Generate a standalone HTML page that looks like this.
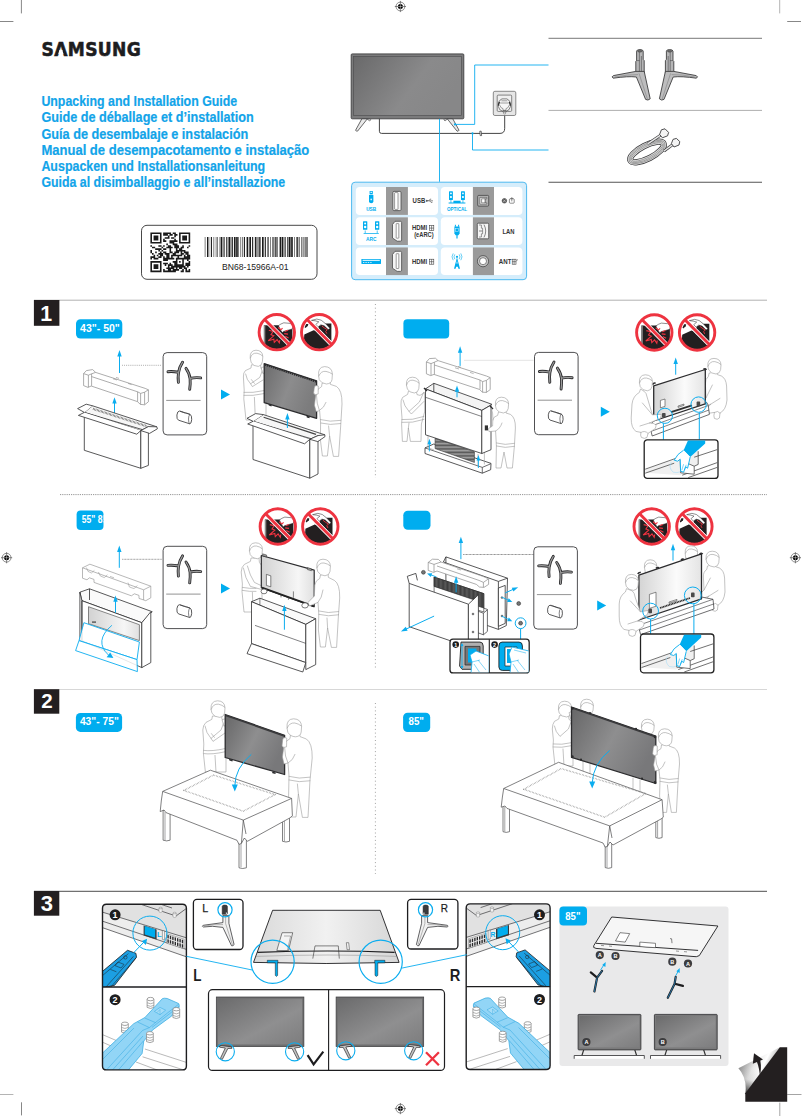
<!DOCTYPE html>
<html lang="en"><head><meta charset="utf-8"><title>Unpacking and Installation Guide</title>
<style>
html,body{margin:0;padding:0;background:#fff}
body{width:802px;height:1116px;overflow:hidden;font-family:"Liberation Sans",sans-serif}
svg{display:block}
.t{font-family:"Liberation Sans",sans-serif}
.b{font-family:"Liberation Sans",sans-serif;font-weight:bold}
</style></head><body>
<svg width="802" height="1116" viewBox="0 0 802 1116">
<defs>
<linearGradient id="gScreen" x1="0" y1="0" x2="1" y2="0.400">
<stop offset="0" stop-color="#69696a"/><stop offset="0.650" stop-color="#8a8a8b"/><stop offset="1" stop-color="#878788"/>
</linearGradient>
<linearGradient id="gCurl" x1="0" y1="0" x2="1" y2="0.6">
<stop offset="0" stop-color="#8a8a8a"/><stop offset="0.45" stop-color="#f4f4f4"/><stop offset="1" stop-color="#9a9a9a"/>
</linearGradient>
<g id="reg">
<circle r="4.4" fill="none" stroke="#222" stroke-width="0.5"/>
<circle r="2.5" fill="#000"/>
<path d="M-5.6 0H5.6M0 -5.6V5.6" stroke="#222" stroke-width="0.5"/>
<path d="M0 -2.5V2.5M-2.5 0H2.5" stroke="#fff" stroke-width="0.4"/>
</g>
</defs>
<rect width="802" height="1116" fill="#fff"/>
<!-- crop marks -->
<g stroke="#b4b4b4" stroke-width="1" fill="none"><path d="M779.700 0V13.400M0 1094.500H13.400"/></g>
<g stroke="#9a9a9a" stroke-width="0.900" fill="none"><path d="M779.800 1102.600V1116M787.200 1094.500H801.500"/></g>
<g stroke="#686868" stroke-width="0.800" fill="none"><path d="M21.400 0V13.400M0 21.500H13.400M787.200 21.500H801M21.500 1102.300V1115.400"/></g>
<use href="#reg" x="400.4" y="6.5"/>
<use href="#reg" x="6.6" y="557.7"/>
<use href="#reg" x="795.4" y="557.7"/>
<use href="#reg" x="400.4" y="1108.6"/>
<!-- header text -->
<text x="41.6" y="55.800" font-family="'DejaVu Sans Condensed','Liberation Sans',sans-serif" font-weight="bold" font-size="19" fill="#1d1d1f" stroke="#1d1d1f" stroke-width="0.550" letter-spacing="0.350">SAMSUNG</text>
<path d="M59.350 50.100H62.350L63.500 53.950H58.250z" fill="#fff"/>
<g class="b" font-size="14.2" fill="#12a4e9" stroke="#12a4e9" stroke-width="0.200" lengthAdjust="spacingAndGlyphs">
<text x="41.4" y="106.3" textLength="195.8" lengthAdjust="spacingAndGlyphs">Unpacking and Installation Guide</text>
<text x="41.4" y="122.4" textLength="212.3" lengthAdjust="spacingAndGlyphs">Guide de déballage et d’installation</text>
<text x="41.4" y="138.5" textLength="206.8" lengthAdjust="spacingAndGlyphs">Guía de desembalaje e instalación</text>
<text x="41.4" y="154.6" textLength="267.8" lengthAdjust="spacingAndGlyphs">Manual de desempacotamento e instalação</text>
<text x="41.4" y="170.7" textLength="223.8" lengthAdjust="spacingAndGlyphs">Auspacken und Installationsanleitung</text>
<text x="41.4" y="186.8" textLength="243.8" lengthAdjust="spacingAndGlyphs">Guida al disimballaggio e all’installazione</text>
</g>
<!-- barcode label -->
<rect x="141.5" y="225.3" width="175.5" height="54" rx="5.5" fill="#fff" stroke="#333" stroke-width="0.9"/>
<text x="222" y="270" class="t" font-size="8.6" fill="#222" textLength="66.5" lengthAdjust="spacingAndGlyphs">BN68-15966A-01</text>
<!-- qr -->
<path d="M150.40 232.40h11.14v1.64h-11.14zM163.14 232.40h7.96v1.64h-7.96zM172.69 232.40h3.18v1.64h-3.18zM179.06 232.40h11.14v1.64h-11.14zM150.40 233.99h1.59v1.64h-1.59zM159.95 233.99h1.59v1.64h-1.59zM163.14 233.99h4.78v1.64h-4.78zM169.50 233.99h3.18v1.64h-3.18zM174.28 233.99h3.18v1.64h-3.18zM179.06 233.99h1.59v1.64h-1.59zM188.61 233.99h1.59v1.64h-1.59zM150.40 235.58h1.59v1.64h-1.59zM153.58 235.58h4.78v1.64h-4.78zM159.95 235.58h1.59v1.64h-1.59zM167.91 235.58h1.59v1.64h-1.59zM174.28 235.58h1.59v1.64h-1.59zM179.06 235.58h1.59v1.64h-1.59zM182.24 235.58h4.78v1.64h-4.78zM188.61 235.58h1.59v1.64h-1.59zM150.40 237.18h1.59v1.64h-1.59zM153.58 237.18h4.78v1.64h-4.78zM159.95 237.18h1.59v1.64h-1.59zM164.73 237.18h4.78v1.64h-4.78zM171.10 237.18h3.18v1.64h-3.18zM179.06 237.18h1.59v1.64h-1.59zM182.24 237.18h4.78v1.64h-4.78zM188.61 237.18h1.59v1.64h-1.59zM150.40 238.77h1.59v1.64h-1.59zM153.58 238.77h4.78v1.64h-4.78zM159.95 238.77h1.59v1.64h-1.59zM163.14 238.77h1.59v1.64h-1.59zM174.28 238.77h1.59v1.64h-1.59zM179.06 238.77h1.59v1.64h-1.59zM182.24 238.77h4.78v1.64h-4.78zM188.61 238.77h1.59v1.64h-1.59zM150.40 240.36h1.59v1.64h-1.59zM159.95 240.36h1.59v1.64h-1.59zM163.14 240.36h3.18v1.64h-3.18zM169.50 240.36h7.96v1.64h-7.96zM179.06 240.36h1.59v1.64h-1.59zM188.61 240.36h1.59v1.64h-1.59zM150.40 241.95h11.14v1.64h-11.14zM169.50 241.95h4.78v1.64h-4.78zM179.06 241.95h11.14v1.64h-11.14zM166.32 243.54h1.59v1.64h-1.59zM172.69 243.54h4.78v1.64h-4.78zM150.40 245.14h1.59v1.64h-1.59zM158.36 245.14h3.18v1.64h-3.18zM163.14 245.14h1.59v1.64h-1.59zM167.91 245.14h3.18v1.64h-3.18zM174.28 245.14h4.78v1.64h-4.78zM182.24 245.14h1.59v1.64h-1.59zM188.61 245.14h1.59v1.64h-1.59zM151.99 246.73h3.18v1.64h-3.18zM161.54 246.73h1.59v1.64h-1.59zM166.32 246.73h6.37v1.64h-6.37zM174.28 246.73h4.78v1.64h-4.78zM180.65 246.73h3.18v1.64h-3.18zM187.02 246.73h1.59v1.64h-1.59zM155.18 248.32h6.37v1.64h-6.37zM163.14 248.32h3.18v1.64h-3.18zM169.50 248.32h1.59v1.64h-1.59zM175.87 248.32h1.59v1.64h-1.59zM179.06 248.32h3.18v1.64h-3.18zM150.40 249.91h1.59v1.64h-1.59zM158.36 249.91h1.59v1.64h-1.59zM161.54 249.91h1.59v1.64h-1.59zM169.50 249.91h1.59v1.64h-1.59zM175.87 249.91h9.55v1.64h-9.55zM150.40 251.50h1.59v1.64h-1.59zM155.18 251.50h1.59v1.64h-1.59zM159.95 251.50h1.59v1.64h-1.59zM163.14 251.50h3.18v1.64h-3.18zM169.50 251.50h3.18v1.64h-3.18zM174.28 251.50h4.78v1.64h-4.78zM180.65 251.50h1.59v1.64h-1.59zM183.83 251.50h4.78v1.64h-4.78zM151.99 253.10h1.59v1.64h-1.59zM158.36 253.10h4.78v1.64h-4.78zM164.73 253.10h4.78v1.64h-4.78zM172.69 253.10h3.18v1.64h-3.18zM180.65 253.10h3.18v1.64h-3.18zM185.42 253.10h3.18v1.64h-3.18zM153.58 254.69h1.59v1.64h-1.59zM156.77 254.69h1.59v1.64h-1.59zM159.95 254.69h3.18v1.64h-3.18zM166.32 254.69h3.18v1.64h-3.18zM171.10 254.69h11.14v1.64h-11.14zM183.83 254.69h1.59v1.64h-1.59zM187.02 254.69h3.18v1.64h-3.18zM150.40 256.28h4.78v1.64h-4.78zM158.36 256.28h3.18v1.64h-3.18zM163.14 256.28h1.59v1.64h-1.59zM166.32 256.28h3.18v1.64h-3.18zM171.10 256.28h1.59v1.64h-1.59zM177.46 256.28h1.59v1.64h-1.59zM183.83 256.28h6.37v1.64h-6.37zM150.40 257.87h1.59v1.64h-1.59zM153.58 257.87h4.78v1.64h-4.78zM163.14 257.87h11.14v1.64h-11.14zM175.87 257.87h14.33v1.64h-14.33zM163.14 259.46h4.78v1.64h-4.78zM175.87 259.46h1.59v1.64h-1.59zM182.24 259.46h1.59v1.64h-1.59zM187.02 259.46h1.59v1.64h-1.59zM150.40 261.06h11.14v1.64h-11.14zM172.69 261.06h4.78v1.64h-4.78zM179.06 261.06h1.59v1.64h-1.59zM182.24 261.06h1.59v1.64h-1.59zM188.61 261.06h1.59v1.64h-1.59zM150.40 262.65h1.59v1.64h-1.59zM159.95 262.65h1.59v1.64h-1.59zM163.14 262.65h4.78v1.64h-4.78zM169.50 262.65h1.59v1.64h-1.59zM174.28 262.65h3.18v1.64h-3.18zM182.24 262.65h1.59v1.64h-1.59zM185.42 262.65h4.78v1.64h-4.78zM150.40 264.24h1.59v1.64h-1.59zM153.58 264.24h4.78v1.64h-4.78zM159.95 264.24h1.59v1.64h-1.59zM164.73 264.24h1.59v1.64h-1.59zM167.91 264.24h4.78v1.64h-4.78zM174.28 264.24h9.55v1.64h-9.55zM185.42 264.24h4.78v1.64h-4.78zM150.40 265.83h1.59v1.64h-1.59zM153.58 265.83h4.78v1.64h-4.78zM159.95 265.83h1.59v1.64h-1.59zM167.91 265.83h1.59v1.64h-1.59zM171.10 265.83h14.33v1.64h-14.33zM187.02 265.83h1.59v1.64h-1.59zM150.40 267.42h1.59v1.64h-1.59zM153.58 267.42h4.78v1.64h-4.78zM159.95 267.42h1.59v1.64h-1.59zM166.32 267.42h7.96v1.64h-7.96zM175.87 267.42h1.59v1.64h-1.59zM179.06 267.42h3.18v1.64h-3.18zM183.83 267.42h3.18v1.64h-3.18zM150.40 269.02h1.59v1.64h-1.59zM159.95 269.02h1.59v1.64h-1.59zM163.14 269.02h1.59v1.64h-1.59zM167.91 269.02h3.18v1.64h-3.18zM172.69 269.02h6.37v1.64h-6.37zM182.24 269.02h1.59v1.64h-1.59zM185.42 269.02h1.59v1.64h-1.59zM188.61 269.02h1.59v1.64h-1.59zM150.40 270.61h11.14v1.64h-11.14zM163.14 270.61h12.74v1.64h-12.74zM180.65 270.61h3.18v1.64h-3.18zM185.42 270.61h4.78v1.64h-4.78z" fill="#1a1a1a"/>
<!-- barcode -->
<path d="M204.80 237.0h0.55v20.0h-0.55zM207.00 237.0h1.10v20.0h-1.10zM208.65 237.0h0.55v20.0h-0.55zM210.85 237.0h1.10v20.0h-1.10zM213.60 237.0h0.55v20.0h-0.55zM215.80 237.0h0.55v20.0h-0.55zM217.45 237.0h0.55v20.0h-0.55zM219.65 237.0h0.55v20.0h-0.55zM220.75 237.0h1.65v20.0h-1.65zM223.50 237.0h1.10v20.0h-1.10zM226.25 237.0h1.10v20.0h-1.10zM228.45 237.0h1.65v20.0h-1.65zM230.65 237.0h0.55v20.0h-0.55zM231.75 237.0h1.10v20.0h-1.10zM233.95 237.0h1.65v20.0h-1.65zM236.15 237.0h1.65v20.0h-1.65zM238.35 237.0h0.55v20.0h-0.55zM240.55 237.0h0.55v20.0h-0.55zM242.20 237.0h0.55v20.0h-0.55zM243.85 237.0h1.10v20.0h-1.10zM246.60 237.0h1.65v20.0h-1.65zM249.35 237.0h1.65v20.0h-1.65zM252.10 237.0h1.10v20.0h-1.10zM254.85 237.0h1.10v20.0h-1.10zM256.50 237.0h0.55v20.0h-0.55zM257.60 237.0h0.55v20.0h-0.55zM258.70 237.0h1.10v20.0h-1.10zM260.35 237.0h0.55v20.0h-0.55zM262.00 237.0h1.65v20.0h-1.65zM264.75 237.0h1.10v20.0h-1.10zM267.50 237.0h1.10v20.0h-1.10zM270.25 237.0h0.55v20.0h-0.55zM272.45 237.0h1.10v20.0h-1.10zM274.65 237.0h1.10v20.0h-1.10zM276.30 237.0h0.55v20.0h-0.55zM277.40 237.0h0.55v20.0h-0.55zM279.60 237.0h1.65v20.0h-1.65zM281.80 237.0h1.65v20.0h-1.65zM284.55 237.0h1.10v20.0h-1.10zM287.30 237.0h1.10v20.0h-1.10zM288.95 237.0h1.65v20.0h-1.65zM291.15 237.0h1.65v20.0h-1.65zM294.45 237.0h0.55v20.0h-0.55zM296.10 237.0h0.55v20.0h-0.55zM297.20 237.0h1.10v20.0h-1.10zM299.40 237.0h0.55v20.0h-0.55zM301.05 237.0h0.55v20.0h-0.55zM302.70 237.0h0.55v20.0h-0.55zM303.80 237.0h0.55v20.0h-0.55zM305.45 237.0h1.10v20.0h-1.10zM307.10 237.0h0.55v20.0h-0.55z" fill="#1a1a1a"/>
<!-- top TV diagram -->
<g>
<!-- legs -->
<path d="M362 118.5L355.6 130.2Q356.2 131.6 357.6 131.1L367.6 118.5z" fill="#e9e9e9" stroke="#444" stroke-width="0.8" stroke-linejoin="round"/>
<path d="M367 118.8l2.6 2.2 1.2-1.2-1.4-1.4z" fill="#ddd" stroke="#444" stroke-width="0.6"/>
<path d="M452.6 118.5L459 130.2Q458.4 131.6 457 131.1L447 118.5z" fill="#e9e9e9" stroke="#444" stroke-width="0.8" stroke-linejoin="round"/>
<path d="M447.6 118.8l-2.6 2.2-1.2-1.2 1.4-1.4z" fill="#ddd" stroke="#444" stroke-width="0.6"/>
<!-- cable -->
<path d="M379.4 118.5V131.3Q379.4 133.4 381.5 133.4H500Q504.700 133.400 504.700 128.300V114" fill="none" stroke="#444" stroke-width="1"/>
<path d="M479.8 131.2l1.4 0 0.4 4.4-1.4 0z" fill="#fff" stroke="#333" stroke-width="0.7"/>
<!-- tv -->
<rect x="351.2" y="53.9" width="112.6" height="64.9" rx="1" fill="#7b7b7c" stroke="#3e3e40" stroke-width="0.9"/>
<rect x="353.4" y="56.3" width="108" height="59.2" fill="url(#gScreen)" stroke="#4a4a4b" stroke-width="0.6"/>
<!-- socket -->
<rect x="493.300" y="91.300" width="22.500" height="24.200" rx="1.600" fill="#e6e6e6" stroke="#6e6e6e" stroke-width="0.800"/>
<rect x="497.200" y="95.100" width="14.500" height="16.300" rx="1" fill="#efefef" stroke="#555" stroke-width="0.700"/>
<path d="M498.300 106.400Q498 100.400 502 98.900H506.800Q510.800 100.400 510.500 106.400Q509.600 110.600 506.200 111.200H502.600Q499.200 110.600 498.300 106.400z" fill="#f6f6f6" stroke="#333" stroke-width="0.600"/>
<path d="M498.400 105.600Q498.600 103.400 499.600 102M510.400 105.600Q510.200 103.400 509.200 102" fill="none" stroke="#333" stroke-width="1.300"/>
<path d="M501.400 100.800H507.400M500.200 103H508.600" fill="none" stroke="#444" stroke-width="0.500"/>
<path d="M499.800 105.200Q501 108.600 503 108.600V110.400H506V108.600Q508 108.600 509.200 105.200" fill="none" stroke="#444" stroke-width="0.500"/>
<path d="M503 110.400h3v1.800h-3z" fill="#9a9a9a" stroke="#444" stroke-width="0.400"/>
<path d="M503.400 112.200h2.400l-0.400 1.800h-1.600z" fill="#fff" stroke="#444" stroke-width="0.400"/>
<!-- blue leaders -->
<g fill="none" stroke="#0badef" stroke-width="0.9">
<path d="M455 124.4H474.7V65H548.5"/>
<path d="M472.5 133.4V150H548.5"/>
<path d="M439.5 118.8V181.8"/>
</g>
<circle cx="455" cy="124.4" r="1.1" fill="#0badef"/>
<circle cx="472.5" cy="133.4" r="1.1" fill="#0badef"/>
</g>
<!-- right table -->
<g stroke="#555" fill="none">
<path d="M548.5 38.3H762" stroke-width="0.8"/>
<path d="M548.5 110.4H762" stroke-width="0.6" stroke="#777"/>
<path d="M548.5 182.3H762" stroke-width="1.1"/>
</g>
<!-- port panel -->
<g>
<rect x="351.6" y="182.2" width="175" height="97.5" rx="3.5" fill="#d5edfb" stroke="#4db9ef" stroke-width="1"/>
<g fill="#fff">
<rect x="355.8" y="187" width="82.2" height="27.9" rx="4"/>
<rect x="355.8" y="217.3" width="82.2" height="27.7" rx="4"/>
<rect x="355.8" y="247.4" width="82.2" height="27.7" rx="4"/>
<rect x="440.8" y="187" width="81.6" height="27.9" rx="4"/>
<rect x="440.8" y="217.3" width="81.6" height="27.7" rx="4"/>
<rect x="440.8" y="247.4" width="81.6" height="27.7" rx="4"/>
</g>
<g fill="#9a9a9a">
<rect x="386" y="187" width="21.9" height="27.9"/><rect x="386" y="217.3" width="21.9" height="27.7"/><rect x="386" y="247.4" width="21.9" height="27.7"/>
<rect x="472.9" y="187" width="21.1" height="27.9"/><rect x="472.9" y="217.3" width="21.1" height="27.7"/><rect x="472.9" y="247.4" width="21.1" height="27.7"/>
</g>
<!-- ports -->
<g fill="#f4f4f4" stroke="#3a3a3a" stroke-width="0.7" stroke-linejoin="round">
<rect x="392.9" y="191.4" width="8.1" height="19.2" rx="1.2"/>
<rect x="394.6" y="192.6" width="3.4" height="16.8" rx="0.6" fill="#fff" stroke-width="0.5"/>
<path d="M395 221.3h5.4q1.2 0 1.2 1.2v17.5q0 1.2-1.2 1.2h-3.2l-4.7-3.2v-13.5z"/>
<rect x="396.2" y="223.6" width="2.6" height="14.6" rx="0.5" fill="#fff" stroke-width="0.5"/>
<path d="M395 251.3h5.4q1.2 0 1.2 1.2v17.7q0 1.2-1.2 1.2h-3.2l-4.7-3.2v-13.7z"/>
<rect x="396.2" y="253.7" width="2.6" height="14.8" rx="0.5" fill="#fff" stroke-width="0.5"/>
<rect x="477.7" y="195.4" width="11" height="10.7" rx="1" fill="#b5b5b5"/>
<path d="M479.8 197.4h7v1.4h-2v4h2v1.4h-7z" fill="#e8e8e8" stroke-width="0.5"/>
<rect x="481.6" y="198.8" width="3.4" height="4" fill="#fff" stroke-width="0.5"/>
<rect x="477.3" y="223.2" width="11.4" height="15.6" rx="1"/>
<path d="M479 225h2.4v3.2h1.2v5.6h-1.2v3.2h-2.4" fill="none" stroke-width="0.5"/>
<path d="M484 224.6q3.4 6.4 0 12.8" fill="none" stroke-width="0.6"/>
<path d="M479 231h3.4" stroke-width="0.6"/>
<circle cx="483" cy="261.2" r="5.6" fill="#c9c9c9"/>
<circle cx="483" cy="261.2" r="3.5" fill="#fff" stroke-width="0.6"/>
</g>
<!-- labels -->
<g class="b" font-size="6.6" fill="#333">
<text x="412.6" y="203.1" textLength="12.6" lengthAdjust="spacingAndGlyphs">USB</text>
<text x="412" y="230.4" textLength="15.2" lengthAdjust="spacingAndGlyphs">HDMI</text>
<text x="414.2" y="236.9" textLength="19.4" lengthAdjust="spacingAndGlyphs">(eARC)</text>
<text x="412" y="264" textLength="15.2" lengthAdjust="spacingAndGlyphs">HDMI</text>
<text x="502.4" y="234" font-size="7" textLength="12" lengthAdjust="spacingAndGlyphs">LAN</text>
<text x="498.8" y="264" font-size="7" textLength="12.6" lengthAdjust="spacingAndGlyphs">ANT</text>
</g>
<!-- small symbol glyphs after labels -->
<g fill="none" stroke="#333" stroke-width="0.55">
<path d="M426.6 200.8h6.4M428.6 200.8l1.4-1.6h1.2M429.6 200.8l1.4 1.6h1.4"/>
<circle cx="426.8" cy="200.8" r="0.6" fill="#333"/>
<rect x="429.4" y="225.6" width="4.4" height="5"/><path d="M431.6 225.6v5M429.4 228.1h4.4"/>
<rect x="429.4" y="259.2" width="4.4" height="5"/><path d="M431.6 259.2v5M429.4 261.7h4.4"/>
<rect x="512.2" y="259.2" width="3.8" height="5"/><path d="M514.1 259.2v5M512.2 261.7h3.8M517.4 259.2l-0.8 2"/>
<circle cx="504.4" cy="200.8" r="2.3" fill="#555"/><path d="M503 199.4l2.8 2.8M505.8 199.4l-2.8 2.8" stroke="#fff" stroke-width="0.5"/>
<rect x="509.4" y="198.8" width="4.8" height="4.4" rx="0.8"/><path d="M511.8 201.4v-3.6m-1.2 1l1.2-1.2 1.2 1.2"/>
</g>
<!-- blue icons -->
<g fill="#00adef" stroke="none">
<rect x="369.6" y="191" width="3.2" height="3.4"/><rect x="370.4" y="191.8" width="1.6" height="1" fill="#fff"/>
<path d="M369 195h4.4v6.2q0 2-2.2 2t-2.2-2z"/><circle cx="371.2" cy="199.4" r="0.9" fill="#d5edfb"/>
<rect x="363" y="221.3" width="4.3" height="8.4" rx="0.5"/><rect x="375" y="221.3" width="4.3" height="8.4" rx="0.5"/>
<circle cx="365.15" cy="223.5" r="1" fill="#fff"/><circle cx="365.15" cy="227" r="1.2" fill="#fff"/>
<circle cx="377.15" cy="223.5" r="1" fill="#fff"/><circle cx="377.15" cy="227" r="1.2" fill="#fff"/>
<path d="M363.6 232.9h15.2v0.8h-15.2zM364.8 230.6h0.7v2.6h-0.7zM376.8 230.6h0.7v2.6h-0.7z"/>
<rect x="361.4" y="259" width="19.6" height="5" rx="0.4"/><rect x="362.6" y="259.8" width="17.2" height="1" fill="#fff"/>
<path d="M363 262.3h1.4v0.8H363zM365.4 262.3h1.4v0.8h-1.4zM367.8 262.3h1.4v0.8h-1.4zM370.2 262.3h1.4v0.8h-1.4z" fill="#fff"/>
<rect x="449" y="191.2" width="3.9" height="8.8" rx="0.5"/><rect x="461" y="191.2" width="3.9" height="8.8" rx="0.5"/>
<circle cx="450.95" cy="193.4" r="0.9" fill="#fff"/><circle cx="450.95" cy="197" r="1.1" fill="#fff"/>
<circle cx="462.95" cy="193.4" r="0.9" fill="#fff"/><circle cx="462.95" cy="197" r="1.1" fill="#fff"/>
<path d="M448.6 202.6h16.8v0.8h-16.8zM450.6 200h0.7v2.8h-0.7zM462.6 200h0.7v2.8h-0.7zM453.4 200.8h7.2v1.6h-7.2z"/>
<path d="M454.4 226.4h5.2v7.2l-1.2 1.6h-2.8l-1.2-1.6z"/><path d="M454.9 224.7h1v2h-1zM458.1 224.7h1v2h-1zM456.4 235h1.2v3.4h-1.2z"/>
<rect x="455.7" y="228.4" width="2.6" height="3" fill="none" stroke="#d5edfb" stroke-width="0.5"/>
<path d="M457 257.2l3 11.6h-1.6l-0.5-2h-1.8l-0.5 2H454zM456.4 263.4h1.2l-0.6-2.6zM456 265.4h2"/>
<circle cx="457" cy="256.8" r="1.1"/>
</g>
<g fill="none" stroke="#00adef" stroke-width="0.6">
<path d="M454.8 254.4q-1.6 2.4 0 4.8M453.2 253.4q-2.4 3.4 0 6.8M459.2 254.4q1.6 2.4 0 4.8M460.8 253.4q2.4 3.4 0 6.8"/>
</g>
<g class="b" font-size="5.2" fill="#00adef">
<text x="366.2" y="210.6" textLength="10" lengthAdjust="spacingAndGlyphs">USB</text>
<text x="366" y="241.2" textLength="10.4" lengthAdjust="spacingAndGlyphs">ARC</text>
<text x="447" y="210.6" textLength="20" lengthAdjust="spacingAndGlyphs">OPTICAL</text>
</g>
</g>
<defs>
<g id="standL">
<path d="M-3.4 1.2Q-3.4 -0.4 0 -0.4Q3.2 -0.4 3.2 1.2V9.4L4.2 10.6V23H-4.2V11.4L-3.4 10.4z" fill="#b6b6b7" stroke="#3e3e40" stroke-width="0.9" stroke-linejoin="round"/>
<path d="M-0.6 1V22M1.4 6v16M-3.4 10.6h3" fill="none" stroke="#4a4a4c" stroke-width="0.6"/>
<ellipse cx="-0.1" cy="1.2" rx="2.4" ry="1" fill="#666" stroke="#444" stroke-width="0.4"/>
<path d="M-4.2 21.4L-26.6 25.6Q-29 26.8-26.8 28.2Q-12 26-3.6 27L5.6 49.4Q8 51 10.2 48.8L4.2 21.4z" fill="#bdbdbe" stroke="#3e3e40" stroke-width="0.9" stroke-linejoin="round"/>
<path d="M-1 23.4L7.6 49.6M-25 27Q-12 24.4-2 24.6" fill="none" stroke="#777" stroke-width="0.5"/>
</g>
</defs>
<use href="#standL" transform="translate(640,50)"/>
<use href="#standL" transform="translate(669.6,50) scale(-1,1)"/>
<!-- power cable icon -->
<g fill="none">
<g transform="rotate(-27 647 152)">
<ellipse cx="647" cy="152" rx="18.600" ry="6.600" stroke="#3c3c3e" stroke-width="6.200"/>
<ellipse cx="647" cy="152" rx="18.600" ry="6.600" stroke="#dedede" stroke-width="4.800"/>
<ellipse cx="647" cy="152" rx="17.400" ry="5.400" stroke="#6a6a6a" stroke-width="0.500"/>
<ellipse cx="647" cy="152" rx="18.800" ry="6.800" stroke="#6a6a6a" stroke-width="0.500"/>
<ellipse cx="647" cy="152" rx="20" ry="8" stroke="#6a6a6a" stroke-width="0.500"/>
</g>
<path d="M648 143.600L661 134.800" stroke="#3c3c3e" stroke-width="2.800"/><path d="M648 143.600L661 134.800" stroke="#e8e8e8" stroke-width="1.500"/>
<path d="M664 151L673 144.400" stroke="#3c3c3e" stroke-width="2.800"/><path d="M664 151L673 144.400" stroke="#e8e8e8" stroke-width="1.500"/>
<path d="M659.600 134.400L661.400 129.800L665 128.800L668.600 132.400L667.600 135.800L662.400 137.800z" fill="#f4f4f4" stroke="#3c3c3e" stroke-width="0.900" stroke-linejoin="round"/>
<path d="M671.400 143.600L673 139.400L676.400 138.400L679.800 141.600L679 145L674 147z" fill="#f4f4f4" stroke="#3c3c3e" stroke-width="0.900" stroke-linejoin="round"/>
</g>
<defs>
<clipPath id="cpProh"><circle r="16.800"/></clipPath>
<g id="proh1">
<circle r="17.800" fill="#fff"/>
<g clip-path="url(#cpProh)">
<path d="M-12.900 -6.900H2L15.600 -5.800V20H-12.900z" fill="#231f20"/>
<path d="M-12.900 -6.900h1.400V12h-1.400z" fill="#8a8a8a"/>
<path d="M1.600 -6.600Q4 -8.400 7 -9.400L13.400 -8.800L16.400 -6.200L15.400 -3.200L10.400 -1.800L6.800 -0.800L5.400 0.400L3.400 -2.800z" fill="#fff" stroke="#231f20" stroke-width="0.500"/>
<path d="M-8 -1.900L-3.600 -0.800L-5.800 2.500L-3 3.600L-8.500 8.500L-3 6.900L-2.500 10.100L0.300 7.400L2.500 10.700L3 8" fill="none" stroke="#ee3340" stroke-width="1.100" stroke-linejoin="miter"/>
<path d="M1.400 -4.700L4.100 -2.500L5.800 -4.100M8 -0.800L11.200 -1.900M7.400 1.400L11.200 1.900M8.500 4.100L11.800 5.800" fill="none" stroke="#ee3340" stroke-width="1.100"/>
</g>
<path d="M-11.900 -12.400L12.400 12.200" stroke="#fff" stroke-width="4.400"/>
<path d="M-12.400 -12.900L12.800 12.600" stroke="#ee3340" stroke-width="2.900"/>
<circle r="17.700" fill="none" stroke="#ee3340" stroke-width="2.900"/>
</g>
<g id="proh2">
<circle r="17.800" fill="#fff"/>
<g clip-path="url(#cpProh)">
<path d="M-14.900 2.200L-5.600 -1.900L-4 -1.600L12 14V20H-16z" fill="#231f20"/>
<path d="M-0.700 -5.800L4.300 -8.800H12.200V9L-0.700 -4z" fill="#231f20"/>
<path d="M-14.600 -4.900L-13 -8.200L-10.800 -8.200L-11.400 -6.300L-13.800 -4.100z" fill="#231f20"/>
<path d="M-7.800 -11.800Q-2 -14.400 2 -12Q6 -9.400 10.800 -3.800L9 -2.600L5 -6.400L1.600 -7.400L-1 -5.400L-3.400 -7.800L-0.400 -10.400Q-4 -11.800 -7.800 -11.800z" fill="#fff" stroke="#231f20" stroke-width="0.500"/>
<path d="M2.600 -6.300L5 -4.400L8.100 -2.500L6.500 -0.800L7.600 1.400" fill="none" stroke="#ee3340" stroke-width="0.900"/>
</g>
<path d="M-11.900 -12.400L12.400 12.200" stroke="#fff" stroke-width="4.400"/>
<path d="M-12.400 -12.900L12.800 12.600" stroke="#ee3340" stroke-width="2.900"/>
<circle r="17.700" fill="none" stroke="#ee3340" stroke-width="2.900"/>
</g>
<!-- mini stand pair for accessory box: local origin at box top-left, box 43.5 x 82 -->
<g id="ministands" fill="none" stroke-linecap="round">
<path d="M15.200 21Q16.400 14 19.500 9.600M15.600 19.700Q9 18.500 4.900 19.100M15.400 19.800Q14.700 25 15.300 29.800M27.200 27Q26.400 20.400 22.900 15.700M27 25.700Q33 24.500 37.600 25.300M27 25.800Q27.400 31 26.600 36.600" stroke="#2a2a2c" stroke-width="2.900"/>
<path d="M15.200 21Q16.400 14 19.500 9.600M15.600 19.700Q9 18.500 4.900 19.100M15.400 19.800Q14.700 25 15.300 29.800M27.200 27Q26.400 20.400 22.900 15.700M27 25.700Q33 24.500 37.600 25.300M27 25.800Q27.400 31 26.600 36.600" stroke="#9c9c9c" stroke-width="1.200"/>
</g>
<g id="accA">
<rect x="0" y="0" width="43.600" height="82.300" rx="4" fill="#fff" stroke="#3c3c3e" stroke-width="0.9"/>
<path d="M3.100 47.800H37.500" stroke="#777" stroke-width="0.800"/>
<use href="#ministands"/>
<path d="M16.200 58.400L27 61.800Q28.800 62.800 28.600 67Q28.200 71.400 26.600 71.200L15.400 67.600Q13.400 66.600 13.800 62.400Q14.400 58.400 16.200 58.400z" fill="#fff" stroke="#2e2e30" stroke-width="0.800" stroke-linejoin="round"/>
<path d="M27 61.800Q25.400 62.800 25.400 66.400Q25.400 70.400 26.600 71.200" fill="none" stroke="#2e2e30" stroke-width="0.600"/>
<path d="M17 58.600L27 61.800" stroke="#2e2e30" stroke-width="1.200" stroke-dasharray="0.500 0.700"/>
</g>
<path id="play" d="M0 0V10L9 5z" fill="#00adef"/>
</defs>
<!-- section rules and number boxes -->
<g fill="none">
<path d="M34 300.200H767" stroke="#a8a8a8" stroke-width="0.9"/>
<path d="M34 689.500H767" stroke="#d2d2d2" stroke-width="0.9"/>
<path d="M34 891.300H767" stroke="#3a3a3a" stroke-width="0.9"/>
<path d="M60 494.600H767" stroke="#7a7a7a" stroke-width="0.800" stroke-dasharray="1.200 1"/>
<path d="M375.400 304V478M375.400 500V670M375.400 703V874" stroke="#8a8a8a" stroke-width="0.800" stroke-dasharray="1 2.700"/>
</g>
<g fill="#231f20">
<rect x="33.900" y="300" width="25.500" height="25.800"/>
<rect x="33.900" y="689.200" width="25.400" height="24.500"/>
<rect x="33.900" y="891" width="25.400" height="24.700"/>
</g>
<g class="b" fill="#fff" text-anchor="middle">
<text x="46.200" y="321.300" font-size="21.400">1</text>
<text x="47.100" y="708.400" font-size="20.600">2</text>
<text x="46.800" y="911.300" font-size="22">3</text>
</g>
<!-- panel 1A : 43"-50" -->
<g>
<rect x="76" y="319.300" width="46.300" height="19.300" rx="4.500" fill="#00adef"/>
<text x="80.100" y="332" class="b" font-size="10.400" fill="#fff" textLength="39.700" lengthAdjust="spacingAndGlyphs">43"- 50"</text>
<!-- arrows -->
<g fill="#0badef" stroke="#0badef">
<path d="M119.500 373V355" stroke-width="1" fill="none"/><path d="M119.500 350L121.700 356.400H117.300z" stroke="none"/>
<path d="M114.500 413.200V402" stroke-width="1" fill="none"/><path d="M114.500 397.200L116.700 403.600H112.300z" stroke="none"/>
</g>
<path d="M122.200 365.300H161.800" stroke="#777" stroke-width="0.700" stroke-dasharray="0.800 1.100" fill="none"/>
<!-- styrofoam -->
<g fill="#fff" stroke="#8a8a8a" stroke-width="0.700" stroke-linejoin="round">
<path d="M83.600 373.600L86.400 370.600L92.600 369.600L95.600 372.400L145.200 388.400L148.400 389.800V401.800L144.600 404.800L140.400 404.400L137.400 401.600L91.200 386L88 387.400L83.600 385.600z"/>
<path d="M83.600 373.600L88.400 375.200L91.600 373.800L95.600 372.400M88.400 375.200V387.200M91.600 373.800V385.800M91.600 376.600L137.600 391.800L140.600 393.400L144.600 392.200L148.400 389.800M140.600 393.400V404.400M144.600 392.200V404.600M137.600 391.800V401.600" fill="none"/>
<path d="M113 378.800l4 1.200M116 377.400l3 1M128 383.400l3.600 1.200" fill="none" stroke-width="0.600"/>
</g>
<!-- open box -->
<g fill="#fff" stroke="#2e2e30" stroke-width="0.800" stroke-linejoin="round">
<path d="M92.600 405.800L156.800 426.800L148.400 431.400L84.300 412.400z" fill="#f6f6f6"/>
<path d="M84.300 412.400L84.300 450.300L140.800 468.300L140.800 430.600z"/>
<path d="M140.800 430.600L148.400 426.600V465.400L140.800 468.300z"/>
<path d="M84.300 412.400L77.600 408.600L86.200 404.200L92.600 405.800M84.300 412.400L78.400 415.400L136.800 434.200L140.800 430.600"/>
<path d="M148.400 426.600L156.800 426.800L157.400 428.800L149.600 433.400L140.800 430.600z"/>
<path d="M93 408.800L146.600 426.200" stroke="#555" stroke-width="2.200" stroke-dasharray="0.600 0.800" fill="none"/>
</g>
<use href="#accA" x="163.100" y="352.600"/>
<use href="#play" x="221" y="389.400"/>
<use href="#proh1" x="276.800" y="332.200"/>
<use href="#proh2" x="319.200" y="332.200"/>
</g>
<!-- 1A right: people, tv, box -->
<defs>
<linearGradient id="gTvA" x1="0" y1="0" x2="1" y2="0.4"><stop offset="0" stop-color="#6b6b6c"/><stop offset="0.55" stop-color="#8c8c8d"/><stop offset="1" stop-color="#7c7c7d"/></linearGradient>
</defs>
<g fill="#fff" stroke="#9b9b9b" stroke-width="0.600" stroke-linejoin="round" stroke-linecap="round">
<!-- left person -->
<path d="M251.400 365.200L251 368L245.400 370.600Q243.200 372.600 243.400 377L244.200 390L243.800 398.800L246 420H266V372L261 368.400L260.600 365z"/>
<path d="M250.200 357.600Q249.600 350.600 256 350.200Q262.600 350.400 262.800 356.600L262.400 361.600Q262 365.600 258.400 366.400Q253.400 366.400 251.400 363z"/>
<path d="M250.400 358Q251.600 352.600 257 353.200Q260.400 353.800 262.600 356" fill="none"/>
<path d="M245.600 374Q246.600 380 250.600 383.800L259.800 377.400L262.400 370.400L264.600 368.600M250.600 383.800L252.400 386.600L263 380M251.400 379.600L254.400 383.400M244 392.400Q252 393.200 264 390.600M244 395.400Q252 396.200 264 393.600M254.400 397.400L255.400 420" fill="none"/>
<path d="M261.400 367.600Q263.400 366.400 264.800 367.400L265.400 372.400L263.200 373.400z"/>
</g>
<!-- tv -->
<path d="M264.200 363.700L316.600 380.900V418.300L264.200 402.600z" fill="url(#gTvA)" stroke="#2c2c2e" stroke-width="1.300" stroke-linejoin="round"/>
<path d="M264.800 364.600L316.200 381.600" stroke="#2c2c2e" stroke-width="2" stroke-dasharray="1.400 0.800" fill="none"/>
<path d="M268.400 403.800l0.400 1.800 2.600 0.800 0.400-1.600zM306.400 415.600l0.400 1.800 2.600 0.800 0.400-1.600z" fill="#2c2c2e"/>
<g fill="#fff" stroke="#9b9b9b" stroke-width="0.600" stroke-linejoin="round" stroke-linecap="round">
<!-- right person -->
<path d="M322 383.600L321.600 386.600Q317 389 316 393L314.400 405.200L316.200 411.600L319.600 410.600L320.600 422.600L320.400 440L322.400 456H327.400L329.600 436L333.400 456.400H338.600L340.800 424L342 404Q342.200 390 336.400 386.400L330.400 384.400L330 381z"/>
<path d="M318.600 375.600Q317.600 367 324.600 366.600Q332 366.800 332.400 374L332 379.600Q331.400 383.600 326.400 384Q321.400 383.600 319.400 380z"/>
<path d="M318.800 376Q321 370.600 326 371.400Q329.400 372 332.200 374" fill="none"/>
<path d="M318 386Q314.600 384.400 314.200 388.600L313.600 393.200Q315.200 395.600 317.800 394.200z"/>
<path d="M316.400 394.600Q316.600 404 319.400 410.400Q324 408 326 402.400M320.400 419.600Q330 422.400 340.800 420.400M320.600 423Q330 425.600 340.600 423.600M329.600 436L328.600 426" fill="none"/>
</g>
<!-- box -->
<g fill="#fff" stroke="#2e2e30" stroke-width="0.800" stroke-linejoin="round">
<path d="M263.400 414.600L324.800 434.800L318 440.800L253 421.300z" fill="#f6f6f6"/>
<path d="M253 421.300V459.500L309.800 478.200V439.300z"/>
<path d="M309.800 439.300L318 435.600V474L309.800 478.200z"/>
<path d="M253 421.300L247 418.300L255.600 413.600L263.400 414.600M253 421.300L247.700 424L304.600 443.800L309.800 439.300"/>
<path d="M318 435.600L324.800 434.800L325 436.600L317.800 441.600L309.800 439.300z"/>
<path d="M263.600 417.200L316 434.400" stroke="#444" stroke-width="1.200" fill="none"/>
</g>
<g fill="#0badef" stroke="#0badef">
<path d="M287.400 428V418" stroke-width="1" fill="none"/><path d="M287.400 413.100L289.600 419.500H285.200z" stroke="none"/>
</g>
<!-- panel 1B -->
<defs>
<linearGradient id="gBack" x1="0" y1="0" x2="1" y2="0"><stop offset="0" stop-color="#d4d4d4"/><stop offset="0.6" stop-color="#fbfbfb"/><stop offset="1" stop-color="#e4e4e4"/></linearGradient>
<pattern id="hatch" width="1.400" height="1.400" patternUnits="userSpaceOnUse"><rect width="1.400" height="1.400" fill="#a2a2a2"/><path d="M0 0.350H1.400" stroke="#4a4a4a" stroke-width="0.600"/></pattern>
<g id="detailHand">
<rect x="0" y="0" width="73.800" height="38.600" rx="3" fill="#fff" stroke="#222" stroke-width="1.300"/>
<path d="M1 30L54 11.400V24.600L36 35.400L1.400 33" fill="#f0f0f0" stroke="none"/>
<path d="M1 29.400L40 15.600M1 33.400L30 23.400M38 35.400L73 22.800M44 37.800L73 27.600M50 17.400L73 9.800M54 11.400V24.600L50 26.400" fill="none" stroke="#333" stroke-width="0.700"/>
<path d="M36 20.400L50 26.400L50 34.400L36.400 33z" fill="#fff" stroke="#333" stroke-width="0.700" stroke-linejoin="round"/>
<path d="M43.800 0.700H61V3.600L46 17.200L39.400 10.400z" fill="#00adef"/>
<path d="M39.400 10.400Q33 14 30 20.400L33.400 21.400L36 19.400L36.400 31.400L39.400 32.400L41.400 27L43.400 28.400L46 17.200" fill="#fff" stroke="#00adef" stroke-width="0.900" stroke-linejoin="round"/>
<path d="M37.600 30.400L39.400 24.400M40.400 30L42 25" stroke="#00adef" stroke-width="0.500" fill="none"/>
<path d="M27 22.400Q24 28 29 32.400Q33 33.400 36 32" fill="none" stroke="#a8dcf6" stroke-width="0.600"/>
</g>
</defs>
<g>
<rect x="403.400" y="319.200" width="45.800" height="19.300" rx="4" fill="#00adef"/>
<path d="M464 360.300H533.600" stroke="#d0d0d0" stroke-width="0.600" fill="none"/>
<!-- left person -->
<g fill="#fff" stroke="#9b9b9b" stroke-width="0.600" stroke-linejoin="round" stroke-linecap="round">
<path d="M408.400 391.400L407.600 394.400L402.600 397.400Q400.600 400 401 405L402 418L401.600 424L402.400 441.400H407L408.400 428L410.400 441.400H421L421.400 424L424.600 412V392.400L420 395.400L417 394.600L416.400 391.400z"/>
<path d="M406.400 384.600Q405.800 377.400 412.400 377.200Q419.200 377.400 419.200 384L418.800 388.600Q418.200 392.600 414.400 393Q409.400 392.800 407.600 389.400z"/>
<path d="M406.600 385Q408 379.600 413 380.200Q416.600 380.800 419 383M403 400Q404 406 409 411.400L419.400 402L423.600 392.400M409 411.400L411.400 414L424 401.400M402 419.600Q412 420.600 424 416.400M402 422.400Q412 423.400 424 419.400M408.400 428L409 423" fill="none"/>
</g>
<!-- styrofoam top -->
<g fill="#fff" stroke="#8a8a8a" stroke-width="0.700" stroke-linejoin="round">
<path d="M426.400 362L429.400 358.600L435.400 358.200L438 360.600L486.400 376L490.200 377.600V389.600L486.400 392.400L482.400 392.200L479.400 389.400L434 374.400L430.600 375.600L426.400 373.800z"/>
<path d="M426.400 362L431 363.600L434.400 362.200L438 360.600M431 363.600V375.400M434.400 362.200V374.200M434.400 365L480 380L482.600 381.600L486.400 380.400L490.200 377.600M482.600 381.600V392.200M486.400 380.400V392.400M480 380V389.400" fill="none"/>
<path d="M455 367.800l4 1.200M458 366.400l3 1M470 372.400l3.600 1.200" fill="none" stroke-width="0.600"/>
</g>
<!-- TV hatched + base tray -->
<g stroke-linejoin="round">
<path d="M425 447.900L433.800 444L491 463.400L490.700 469.700L482.300 473.200L425 453.500z" fill="#fff" stroke="#2e2e30" stroke-width="0.800"/>
<path d="M425 447.900L482.300 467.400L490.700 463.800M482.300 467.400V473.200" fill="none" stroke="#2e2e30" stroke-width="0.700"/>
<path d="M428 436V447.600L434 450M478 454V466.400M484.400 452V464.400" fill="none" stroke="#999" stroke-width="0.600"/>
<path d="M435.100 438.300L474.400 451.700V462.400L435.100 448.600z" fill="url(#hatch)" stroke="#333" stroke-width="0.600"/>
</g>
<!-- sleeve box -->
<g fill="#fff" stroke="#2e2e30" stroke-width="0.800" stroke-linejoin="round">
<path d="M425.500 388.900L433.800 383.300L491.900 404.300L481.800 410.400z" fill="#f4f4f4"/>
<path d="M433.800 383.300V392" fill="none"/>
<path d="M425.500 388.900V434.800L481.800 453.500V410.400z"/>
<path d="M481.800 410.400L491 405.100V449.700L481.800 453.500z"/>
<path d="M425.500 397.300L481.800 416.500" fill="none" stroke-width="0.600"/>
<path d="M424 388L427 391M490 406L493 409" fill="none" stroke-width="1.400"/>
<rect x="484.800" y="425.400" width="3.200" height="5" fill="#333" stroke="none"/>
</g>
<!-- right person -->
<g fill="#fff" stroke="#9b9b9b" stroke-width="0.600" stroke-linejoin="round" stroke-linecap="round">
<path d="M498.400 412.400L497.600 415.400Q493.400 416.400 492.800 420L492.600 426L488.400 428.600L489 431.600L495.600 431L496.400 446L496 468H501L504 452L507 468H512.400L514.400 446L515.400 428Q515.600 417.400 510.400 414.400L506 413L505.600 410z"/>
<path d="M495.400 405Q494.600 397.400 501.400 397.200Q508.400 397.400 508.600 404L508.200 408.600Q507.600 412.600 503.400 413Q498.400 412.800 496.400 409.400z"/>
<path d="M495.600 405.400Q497.400 400 502.400 400.600Q506 401.200 508.400 403.400M496.400 443Q505 445.600 514.400 443.400M496.400 446Q505 448.600 514.400 446.400M493 420Q493 412 491.400 408.400M495.600 431Q500 429 502 423" fill="none"/>
</g>
<!-- arrows -->
<g fill="#0badef" stroke="#0badef">
<path d="M460.100 365.900V352" stroke-width="1" fill="none"/><path d="M460.100 346.300L462.300 352.700H457.900z" stroke="none"/>
<path d="M457 397.300V391" stroke-width="1" fill="none"/><path d="M457 385.400L459.200 391.800H454.800z" stroke="none"/>
<path d="M429.400 451.400V444" stroke-width="0.900" fill="none"/><path d="M429.400 438.700L431.300 444.300H427.500z" stroke="none"/>
<path d="M478.400 468V460" stroke-width="0.900" fill="none"/><path d="M478.400 454.900L480.300 460.500H476.500z" stroke="none"/>
</g>
<use href="#accA" x="534.500" y="352.400"/>
<use href="#play" x="600.800" y="406.700"/>
<use href="#proh1" x="654.300" y="332.500"/>
<use href="#proh2" x="697.100" y="332.500"/>
<!-- right scene -->
<g fill="#fff" stroke="#9b9b9b" stroke-width="0.600" stroke-linejoin="round" stroke-linecap="round">
<!-- right crouching person (behind tv edge) -->
<path d="M709 373.600L708.400 376.400Q705 379 705.400 384L706 398L699.400 404.400L701.400 408L711 404L705.400 409.900Q704.400 413 708 413.400L714.400 412.400Q713.400 416 714.400 418.400Q717.400 420.400 719.400 418L720 413Q726 410 727 400L726.600 386Q726 378.400 721.400 376L717.400 374.600L717 371.400z"/>
<path d="M707.800 366Q707.200 358.400 714 358.400Q720.800 358.600 721 365L720.600 369.600Q720 373.600 716 374Q711 373.800 709 370.400z"/>
<path d="M708 366.400Q709.800 361 714.800 361.600Q718.400 362.200 720.800 364.400M711 404L720 398.400M706 398L712.400 385M714.400 412.400Q718 410 720 413" fill="none"/>
</g>
<!-- base bar -->
<path d="M653.700 420.300L706.800 402.500L708.300 405.500L709.400 414.400L652.200 436L649.900 426.500z" fill="#fff" stroke="#2e2e30" stroke-width="0.700" stroke-linejoin="round"/>
<path d="M649.900 426.500L708.300 405.500M651 431.400L709 410" fill="none" stroke="#2e2e30" stroke-width="0.600"/>
<!-- TV back -->
<path d="M653.700 385.900L705.300 369.500V403.900L653.700 421z" fill="url(#gBack)" stroke="#2c2c2e" stroke-width="1.300" stroke-linejoin="round"/>
<path d="M652.600 384.600q1-2 3-1.400M703.400 369.400q2-1.400 3 0.400" fill="none" stroke="#2c2c2e" stroke-width="1.600"/>
<path d="M660.400 400.400l4.600-1.400v7.400l-4.600 1.400z" fill="#fff" stroke="#444" stroke-width="0.600"/>
<path d="M671 412.100L692 405.400" stroke="#333" stroke-width="1.800" fill="none"/>
<path d="M678 406l6-2v1.400l-6 2z" fill="#ddd" stroke="#333" stroke-width="0.500"/>
<g fill="#fff" stroke="#9b9b9b" stroke-width="0.600" stroke-linejoin="round" stroke-linecap="round">
<!-- left crouching person -->
<path d="M640.400 389.400L639.400 392.400Q633 396 632 404L631.200 418Q631 428 636 431.400L641 432.400Q640 435.400 641.400 437.400Q644.400 439.400 647 437.400L648 433.400L655.400 428.400Q657.400 425.400 654 423.400L649.400 423L660.400 418.400L661.400 414.400L652.400 414.800L647.400 398Q646.400 392.400 644.400 391.400z"/>
<path d="M639.400 382.400Q638.800 375 645.400 374.800Q652.200 375 652.400 381.600L652 386.400Q651.400 390.400 647.400 390.800Q642.400 390.600 640.400 387z"/>
<path d="M639.600 382.800Q641.400 377.400 646.400 378Q650 378.600 652.200 380.800M649.400 423L640 426M652.400 414.800L642.400 403M641 432.400Q645 430 648 433.400" fill="none"/>
</g>
<g fill="#4a4a4a"><rect x="662" y="413" width="3.600" height="4.600" rx="0.800"/><rect x="696.600" y="401.600" width="3.600" height="4.600" rx="0.800"/></g>
<!-- blue circles & leaders -->
<g fill="none" stroke="#0badef" stroke-width="1">
<circle cx="664.900" cy="415.800" r="7.600"/><circle cx="698.600" cy="404.600" r="7.700"/>
<path d="M663.400 423.300V439.800M699.300 412.300V439.800"/>
</g>
<g fill="#0badef" stroke="#0badef">
<path d="M675.700 374.700V363" stroke-width="1" fill="none"/><path d="M675.700 357.500L677.900 363.900H673.500z" stroke="none"/>
</g>
<use href="#detailHand" x="644.200" y="439.800"/>
</g>
<!-- panel 1C : 55" 8.. -->
<defs>
<clipPath id="cpB55"><rect x="76.600" y="510.400" width="26.900" height="19.500" rx="4"/></clipPath>
<linearGradient id="gTvC" x1="0" y1="0" x2="1" y2="0"><stop offset="0" stop-color="#d2d2d2"/><stop offset="0.7" stop-color="#f6f6f6"/><stop offset="1" stop-color="#e0e0e0"/></linearGradient>
</defs>
<g>
<rect x="76.600" y="510.400" width="26.900" height="19.500" rx="4" fill="#00adef"/>
<g clip-path="url(#cpB55)"><text x="81.800" y="523.100" class="b" font-size="10.600" fill="#fff" textLength="25.400" lengthAdjust="spacingAndGlyphs">55" 85</text></g>
<g fill="#0badef" stroke="#0badef">
<path d="M119.300 567.800V551" stroke-width="1" fill="none"/><path d="M119.300 545.500L121.500 551.900H117.100z" stroke="none"/>
</g>
<path d="M122.200 559.300H161.800" stroke="#666" stroke-width="0.700" stroke-dasharray="0.900 0.600" fill="none"/>
<!-- styrofoam -->
<g fill="#fff" stroke="#9a9a9a" stroke-width="0.700" stroke-linejoin="round">
<path d="M82.500 567.800L89.900 564.200L150.800 586.200V597.800L145.800 600.700L139 598.400V595.400L134.400 593.800L131.400 595.800L94 582.400V579.400L89.400 577.800L87 579.800L82.500 578.200z"/>
<path d="M82.500 567.800L143.600 589.800L150.800 586.200M143.600 589.800V600" fill="none"/>
<path d="M86.400 567.600L88 571.400L91.400 573L94.400 570.400M98.400 572L100.400 576L104.400 577.600L107.400 574.800M128 582.600L129.400 587L134 588.600L137.400 585.600M110 576.400l4 1.400" fill="none" stroke-width="0.600"/>
</g>
<!-- box with tv -->
<g fill="#fff" stroke="#2e2e30" stroke-width="0.800" stroke-linejoin="round">
<path d="M79.900 592.200L89.500 588.800L152.200 611.700L141.800 622.700L81.900 600.700z" fill="#fafafa"/>
<path d="M89.500 588.800V600" fill="none"/>
<path d="M79.900 592.200V640L81.900 641V600.700zM81.900 600.700V640.600L141.800 667.600V622.700z"/>
<path d="M141.800 622.700L150.800 611.700V662.600L141.800 667.600z"/>
<path d="M88.500 606.700L139.400 624.700V640.600L88.500 623.700z" fill="url(#gTvC)" stroke="#555" stroke-width="0.700"/>
<path d="M92 621.400h4v1.400h-4z" fill="#555" stroke="none"/>
</g>
<g fill="#fff" fill-opacity="0.850" stroke="#0badef" stroke-width="0.900" stroke-linejoin="round">
<path d="M83.900 622.700L139.400 642L137 659.600L79 640.600z"/>
<path d="M79 640.600L137 659.600L137.400 671.600L75.600 650.600z"/>
</g>
<path d="M111.900 625.300Q93.500 641 108.600 655.200" fill="none" stroke="#0badef" stroke-width="0.900"/>
<path d="M113.400 658L106.600 657.200L110.200 652.600z" fill="#0badef"/>
<g fill="#0badef" stroke="#0badef"><path d="M115.500 612.700V601" stroke-width="1" fill="none"/><path d="M115.500 595.400L117.700 601.800H113.300z" stroke="none"/></g>
<use href="#accA" x="163.100" y="546.300"/>
<use href="#play" x="221" y="583.600"/>
<use href="#proh1" x="277.800" y="526.500"/>
<use href="#proh2" x="320.300" y="526.500"/>
<!-- left person -->
<g fill="#fff" stroke="#9b9b9b" stroke-width="0.600" stroke-linejoin="round" stroke-linecap="round">
<path d="M251 558.400L250.400 561.400L244.400 564.400Q241.400 567 241.200 572L242.400 584L242 591.400L244 612H262V566L259.400 562.400L259 558.400z"/>
<path d="M249.400 550.400Q248.800 543 255.600 542.800Q262.400 543 262.400 549.600L262 554.400Q261.400 558.400 257.400 558.800Q252.400 558.600 250.400 555z"/>
<path d="M249.600 550.800Q251.400 545.400 256.400 546Q260 546.600 262.200 548.800M243.400 568Q245 578 250.400 586.400L262 589.600M247.400 566Q250 576 254.400 582.400L262 586M242.400 587.400Q250 588.800 256 588.400M242.400 590.400Q250 591.800 256 591.400M252.400 592.400L253 612" fill="none"/>
</g>
<!-- TV back -->
<path d="M261.300 555.500L314.200 570.200V606.700L261.300 587.800z" fill="url(#gTvC)" stroke="#2c2c2e" stroke-width="1.200" stroke-linejoin="round"/>
<path d="M262.600 553.800l4 1.200v2l-4-1.200zM307.400 567.600l4 1.200v2l-4-1.200z" fill="#999" stroke="#333" stroke-width="0.500"/>
<path d="M266.400 574.400l4.400 1.400v11l-4.400-1.400z" fill="#fff" stroke="#333" stroke-width="0.600"/>
<path d="M262 587.600L314 606.400" stroke="#222" stroke-width="1.800" fill="none"/>
<path d="M281 594v3.400M288.400 596.400v3.400M293.400 591.400v6.400" stroke="#333" stroke-width="0.600" fill="none"/>
<ellipse cx="264" cy="591.400" rx="3" ry="2.400" fill="#fff" stroke="#444" stroke-width="0.700"/>
<ellipse cx="305" cy="605.400" rx="3.200" ry="2.600" fill="#fff" stroke="#444" stroke-width="0.700"/>
<!-- right person -->
<g fill="#fff" stroke="#9b9b9b" stroke-width="0.600" stroke-linejoin="round" stroke-linecap="round">
<path d="M320.400 575.400L319.800 578.400Q315.400 580.400 314.800 585L314.400 596L308 602.400L309.400 606L318 602.400L318.800 614L318.400 630L320.400 647H325.400L327.600 628L331.400 647.400H336.600L338.400 616L339.700 598Q340 584 334.400 580.400L328.400 577.400L328 573.400z"/>
<path d="M316.800 567.400Q316 559.400 323 559.200Q330.200 559.400 330.400 566.400L330 571.400Q329.400 575.400 325 575.800Q320 575.600 318 572z"/>
<path d="M317 567.800Q319 562.400 324 563Q327.600 563.600 330.200 565.800M318.800 611Q328 613.800 338.600 611.600M318.800 614.400Q328 617 338.600 614.800M327.600 628L327 618M318 602.400Q322 598 323 590" fill="none"/>
</g>
<!-- box -->
<g fill="#fff" stroke="#2e2e30" stroke-width="0.800" stroke-linejoin="round">
<path d="M251.500 601.700L259.900 598.200L315.700 618.700L305.800 624.400z" fill="#fafafa"/>
<path d="M259.900 598.200V610M255 603.400V640" fill="none" stroke-width="0.600"/>
<path d="M251.500 601.700V643.600L305.800 662.600V624.400z"/>
<path d="M305.800 624.400L315.700 618.700V664.600L305.800 669.600z"/>
<path d="M255 625.400L305.800 643.400" fill="none" stroke-width="0.600"/>
<path d="M251.500 643.600L247 653.600L302.800 672L305.800 662.600z"/>
</g>
<g fill="#0badef" stroke="#0badef">
<path d="M284.400 629.700V610" stroke-width="1" fill="none"/><path d="M284.400 604.700L286.600 611.100H282.200z" stroke="none"/>
</g>
</g>
<!-- panel 1D -->
<defs>
<pattern id="hatchV" width="1.300" height="4" patternUnits="userSpaceOnUse"><rect width="1.300" height="4" fill="#5a5a5a"/><path d="M0.300 0V4" stroke="#2a2a2a" stroke-width="0.500"/></pattern>
</defs>
<g>
<rect x="403.300" y="510.700" width="27.200" height="19" rx="4.500" fill="#00adef"/>
<path d="M463.200 554.500H533.800" stroke="#555" stroke-width="0.700" stroke-dasharray="0.900 0.500" fill="none"/>
<!-- back half box -->
<g fill="#fff" stroke="#2e2e30" stroke-width="0.800" stroke-linejoin="round">
<path d="M445.900 556.900L507.500 578.200L506.300 625.600L498.400 629.400L445.900 611z"/>
<path d="M445.900 556.900L443.400 562L498.400 581.400L507.500 578.200M498.400 581.400V629.400" fill="none"/>
<path d="M498.400 588L505.200 585.400V623.400L498.400 626.400z"/>
<path d="M478.400 606.400l9 3v22l-4 3.400-9-3.400v-22zM474.400 609.800l9 3.400 4-3.400M483.400 613.200v21.600" fill="#fff" stroke-width="0.700"/>
</g>
<!-- top styrofoam -->
<g fill="#fff" stroke="#8a8a8a" stroke-width="0.700" stroke-linejoin="round">
<path d="M428.200 562.400L432.400 559.200L438.400 559.400L441 562L483 576.400L488.600 578.800V584.400L484 587.400L479.400 587L476.400 584.400L437 571L433.400 572.400L428.200 570.400z"/>
<path d="M428.200 562.400L434 564.400L441 562M434 564.400V572.200M437 566L479 580.400L483.400 582.400L488.600 578.800M483.400 582.400V587.200" fill="none"/>
<path d="M457 568.800l4 1.200" fill="none" stroke-width="0.600"/>
</g>
<!-- tv hatched -->
<path d="M434.100 577L483.800 593.600V612L434.100 596z" fill="#fff" stroke="#222" stroke-width="0.600"/>
<path d="M434.100 577L483.800 593.600V608L477.600 606V601L434.100 586.400z" fill="url(#hatchV)" stroke="#222" stroke-width="0.600"/>
<!-- front half box -->
<g fill="#fff" stroke="#2e2e30" stroke-width="0.800" stroke-linejoin="round">
<path d="M409.200 583.400L407.300 576.300L415.800 573.400L417.400 580.400"/>
<path d="M409.200 583.400V626.700L468.400 646.900V604.200z"/>
<path d="M468.400 604.200L478.400 594.800V639.800L468.400 646.900z"/>
<circle cx="473" cy="614" r="0.900" fill="#999" stroke-width="0.500"/><circle cx="473" cy="632" r="0.900" fill="#999" stroke-width="0.500"/>
<circle cx="502" cy="597.600" r="0.900" fill="#999" stroke-width="0.500"/><circle cx="502" cy="616" r="0.900" fill="#999" stroke-width="0.500"/>
</g>
<!-- screws -->
<g fill="#777" stroke="#333" stroke-width="0.600">
<circle cx="423.400" cy="572.300" r="1.900"/><circle cx="518.700" cy="603.500" r="1.900"/><circle cx="520.600" cy="623.200" r="1.900"/>
</g>
<circle cx="520.600" cy="623.200" r="5.400" fill="none" stroke="#0badef" stroke-width="1"/>
<path d="M520.600 628.600V639.300" stroke="#0badef" stroke-width="1" fill="none"/>
<!-- arrows -->
<g fill="#0badef" stroke="#0badef" stroke-width="1">
<path d="M460.900 559.200V542" fill="none"/><path d="M460.900 536.700L463.100 543.100H458.700z" stroke="none"/>
<path d="M456.100 592.400V582" fill="none"/><path d="M456.100 576.300L458.300 582.700H453.900z" stroke="none"/>
<path d="M434.100 616.100L405 629.600" fill="none"/><path d="M400.900 631.500L405.800 626.800L407.600 630.800z" stroke="none"/>
<path d="M505.200 592.900L514 589" fill="none"/><path d="M518.200 587.200L513.400 591.600L511.800 587.800z" stroke="none"/>
<path d="M436.500 577L431 574.900" fill="none" stroke-width="0.900"/><path d="M427 573.400L432.200 573.200L430.800 577z" stroke="none"/>
<path d="M501.600 597.100L508 600" fill="none" stroke-width="0.900"/><path d="M512.300 601.900L507.100 602L508.700 598.200z" stroke="none"/>
<path d="M501.600 616.100L508 619.200" fill="none" stroke-width="0.900"/><path d="M512.300 621.300L507.100 621.300L508.800 617.500z" stroke="none"/>
</g>
<!-- detail box -->
<rect x="450" y="639.200" width="79.200" height="33.700" rx="3" fill="#fff" stroke="#222" stroke-width="1.300"/>
<path d="M489.300 639.200V672.900" stroke="#222" stroke-width="1.100"/>
<clipPath id="cpD1"><rect x="450.600" y="639.800" width="38" height="32.500"/></clipPath>
<clipPath id="cpD2"><rect x="490" y="639.800" width="38.600" height="32.500"/></clipPath>
<g clip-path="url(#cpD1)">
<path d="M461 642.100H480Q483.200 642.100 483.200 646V666Q483.200 669.300 480 669.300H462L459.600 666z" fill="#b0b0b0" stroke="#222" stroke-width="0.900"/>
<path d="M465 646.400H480V665H465z" fill="#777" stroke="#222" stroke-width="0.700"/>
<rect x="468" y="648.500" width="8.400" height="14" fill="#00adef"/>
<path d="M476 651L489 656V673H471L472 662L470 655z" fill="#fff" stroke="#0badef" stroke-width="0.800" stroke-linejoin="round"/>
<path d="M474 664l6 9M478 660l8 10M472 662l8-2" fill="none" stroke="#0badef" stroke-width="0.500"/>
<path d="M462 644V668" stroke="#0badef" stroke-width="0.800"/><path d="M462 643l1.400 3h-2.800zM462 669l1.400-3h-2.800z" fill="#0badef"/>
</g>
<g clip-path="url(#cpD2)">
<path d="M502 642.100H519Q522.400 642.100 522.400 646V667Q522.400 670.400 519 670.400H502.400Q498.900 670.400 498.900 667V646Q498.900 642.100 502 642.100z" fill="#00adef" stroke="#222" stroke-width="0.900"/>
<path d="M505 647H517V666H505z" fill="#fff" stroke="#222" stroke-width="0.700"/>
<rect x="507" y="649" width="6" height="14" fill="#00adef"/>
<path d="M512 647L529 651V673H510L511 662L509 654z" fill="#fff" stroke="#0badef" stroke-width="0.800" stroke-linejoin="round"/>
<path d="M513 664l6 9M517 660l8 10M511 662l8-2M514 650l12 3" fill="none" stroke="#0badef" stroke-width="0.500"/>
</g>
<g fill="#1d1d1f"><circle cx="455.700" cy="644.600" r="3.300"/><circle cx="494.600" cy="644.600" r="3.300"/></g>
<g class="b" font-size="5.400" fill="#fff" text-anchor="middle"><text x="455.700" y="646.500">1</text><text x="494.600" y="646.500">2</text></g>
<use href="#accA" x="533.800" y="546.800"/>
<use href="#play" x="597.200" y="600.600"/>
<use href="#proh1" x="651.700" y="526.500"/>
<use href="#proh2" x="694.400" y="526.500"/>
<!-- right scene -->
<g fill="#fff" stroke="#9b9b9b" stroke-width="0.600" stroke-linejoin="round" stroke-linecap="round">
<!-- back persons heads -->
<path d="M644.400 567Q643.800 560 650.200 559.800Q656.600 560 656.800 566.200L656.400 570.600Q656 574 652 574.400L646 574z"/>
<path d="M644.600 567.400Q646.400 562.400 651 563Q654.400 563.600 656.600 565.600" fill="none"/>
<path d="M685.200 553Q684.600 546 691 545.800Q697.400 546 697.600 552.200L697.200 556.600L692 560L686 558z"/>
<path d="M685.400 553.400Q687.200 548.400 691.800 549Q695.200 549.600 697.400 551.600" fill="none"/>
<!-- right crouching person -->
<path d="M707.400 566.400L706.800 569.400Q703 572 703.400 577L704 590L697.400 596.400L699.400 600L709 596L703.400 601.900Q702.400 605 706 605.400L712.400 604.400Q711.400 608 712.400 610.400Q715.400 612.400 717.400 610L718 605Q724 602 725 592L724.600 578Q724 570.400 719.400 568L715.400 566.600L715 564.400z"/>
<path d="M706 558.800Q705.400 551.400 712.200 551.200Q719 551.400 719.200 558L718.800 562.600Q718.200 566.600 714.200 567Q709.200 566.800 707.200 563.400z"/>
<path d="M706.200 559.200Q708 553.800 713 554.400Q716.600 555 719 557.200M709 596L718 590.400M704 590L710.400 578M712.400 604.400Q716 602 718 605" fill="none"/>
</g>
<path d="M638.900 618L701.500 597L713 599.300L714 609L640.600 634.600L638.300 625.400z" fill="#fff" stroke="#2e2e30" stroke-width="0.700" stroke-linejoin="round"/>
<path d="M638.300 625.400L713 599.300M639.400 630L713.600 604" fill="none" stroke="#2e2e30" stroke-width="0.600"/>
<path d="M638.900 575.200L701.500 553.900V598.800L638.900 620z" fill="url(#gBack)" stroke="#2c2c2e" stroke-width="1.300" stroke-linejoin="round"/>
<path d="M637.800 574q1-2 3-1.400M699.600 553.800q2-1.400 3 0.400M656 568.400q1.400-1.400 3-0.600M681 560q1.400-1.400 3-0.600" fill="none" stroke="#2c2c2e" stroke-width="1.600"/>
<path d="M649.400 594.400l6.600-2.200v14l-6.600 2.200z" fill="#fff" stroke="#444" stroke-width="0.600"/>
<path d="M660 608L690 598" stroke="#333" stroke-width="1.800" stroke-dasharray="1.200 0.400" fill="none"/>
<path d="M669 602l8-2.600v1.400l-8 2.600z" fill="#ddd" stroke="#333" stroke-width="0.500"/>
<g fill="#fff" stroke="#9b9b9b" stroke-width="0.600" stroke-linejoin="round" stroke-linecap="round">
<path d="M626.400 589L625.400 592Q619.400 596 619.200 604L619.200 616Q619 626 624 629.400L629 630.400Q628 633.400 629.400 635.400Q632.400 637.400 635 635.400L636 631.400L643.400 626.400Q645.400 623.400 642 621.400L637.400 621L647.400 614.400L648.400 610.400L640.400 611.800L635.400 598Q634.400 592 632.400 591z"/>
<path d="M625.400 582Q624.800 574.600 631.400 574.400Q638.200 574.600 638.400 581.200L638 586Q637.400 590 633.400 590.400Q628.400 590.200 626.400 586.600z"/>
<path d="M625.600 582.400Q627.400 577 632.400 577.600Q636 578.200 638.200 580.400M637.400 621L628 624M640.400 611.800L630.400 601M629 630.400Q633 628 636 631.400" fill="none"/>
</g>
<g fill="#4a4a4a"><rect x="648.400" y="608.600" width="3.600" height="4.600" rx="0.800"/><rect x="691" y="592.600" width="3.600" height="4.600" rx="0.800"/></g>
<g fill="none" stroke="#0badef" stroke-width="1">
<circle cx="650.600" cy="611.100" r="7.900"/><circle cx="692.800" cy="595.400" r="8.400"/>
<path d="M650.600 619V634M693.900 603.800V634"/>
</g>
<g fill="#0badef" stroke="#0badef">
<path d="M673 560.600V549" stroke-width="1" fill="none"/><path d="M673 543.800L675.200 550.200H670.800z" stroke="none"/>
</g>
<use href="#detailHand" transform="translate(640.500,634) scale(0.9946,1.005)"/>
</g>
<!-- section 2 -->
<defs>
<linearGradient id="gTv2" x1="0" y1="0" x2="1" y2="0.5"><stop offset="0" stop-color="#666667"/><stop offset="0.55" stop-color="#8e8e8f"/><stop offset="1" stop-color="#78787a"/></linearGradient>
</defs>
<g>
<rect x="75.900" y="712.900" width="46.200" height="19" rx="4.500" fill="#00adef"/>
<text x="79.900" y="724.800" class="b" font-size="10.400" fill="#fff" textLength="39" lengthAdjust="spacingAndGlyphs">43"- 75"</text>
<rect x="403.100" y="712.700" width="27.100" height="19.300" rx="4.500" fill="#00adef"/>
<text x="408.500" y="725" class="b" font-size="10.800" fill="#fff" textLength="15.400" lengthAdjust="spacingAndGlyphs">85"</text>
<!-- scene A -->
<g fill="#fff" stroke="#9b9b9b" stroke-width="0.600" stroke-linejoin="round" stroke-linecap="round">
<path d="M212.400 716.400L211.800 719.400L206 722.400Q203 725 202.800 730L203.800 744L203.400 753.400L205.400 772H226V722L222 719.400L221.600 716.400z"/>
<path d="M211 709Q210.400 701 217.600 700.800Q224.800 701 225 708L224.600 713Q224 717 219.800 717.400Q214.400 717.200 212.200 713.600z"/>
<path d="M211.200 709.400Q213 703.600 218.400 704.200Q222.200 704.800 224.800 707.200M205 726Q206 733 211 738.400L221 730L224.400 721M211 738.400L213 741.400L225 733M211.400 733.600L214.400 737.400M203.600 750.400Q212 751.600 225 748.600M203.600 753.600Q212 754.800 225 751.800M215 755.400L216 772" fill="none"/>
<path d="M222.400 719.600Q224.400 718.400 225.800 719.400L226.400 725L224.200 726z"/>
</g>
<path d="M225.200 714.500L284.600 735.300V774.500L225.200 757.500z" fill="url(#gTv2)" stroke="#2c2c2e" stroke-width="1.300" stroke-linejoin="round"/>
<path d="M226 715.400L284.200 736" stroke="#3a3a3c" stroke-width="1.600" fill="none"/>
<path d="M229 758.800l0.400 1.800 3 0.800 0.400-1.600zM272 771.400l0.400 1.800 3 0.800 0.400-1.600z" fill="#2c2c2e"/>
<g fill="#fff" stroke="#9b9b9b" stroke-width="0.600" stroke-linejoin="round" stroke-linecap="round">
<path d="M290.400 735.400L290 738.600Q285 741 284 745.400L282.400 757L284 764L288 763L289 776L288.600 796L290.600 817H296L298.400 794L302.400 817.400H308L310 780L312.200 758Q312.400 743 306.400 739L300 736.600L299.600 733z"/>
<path d="M287 727.600Q286.200 719 293.600 718.800Q301.200 719 301.600 726.400L301.200 732Q300.600 736.400 295.600 736.800Q290.200 736.600 288 732.600z"/>
<path d="M287.200 728Q289.400 722.400 294.800 723Q298.400 723.600 301.400 726M284.600 747.400Q284.800 757 288 763Q293 760.400 295 754.400M289 776.400Q299 779.400 310 777.200M289 780Q299 783 310 780.800M298.400 794L297.400 784" fill="none"/>
<path d="M286.400 738Q283 736.400 282.600 740.600L282 746Q283.600 748.400 286.200 747z"/>
</g>
<!-- table A -->
<g fill="#fff" stroke="#4a4a4c" stroke-width="0.700" stroke-linejoin="round">
<path d="M163.100 810H170.100V840.200Q166.600 841.600 163.100 840.200z"/><path d="M165 812V840" fill="none" stroke-width="0.500"/>
<path d="M282.500 815H289.500V841.300Q286 842.700 282.500 841.300z"/><path d="M284.400 817V841" fill="none" stroke-width="0.500"/>
<path d="M239 838H246.400V867.800Q242.700 869.200 239 867.800z"/><path d="M241 840V867" fill="none" stroke-width="0.500"/>
<path d="M210.400 770.200L291.600 798.400L292.400 815.800L289.900 817.900L247.400 841.300L244.400 838L241.400 843.400L239 844.400L237 840.300L166 812.600L164 810L160.200 811.600L161.400 800L162.700 791.400z"/>
<path d="M162.700 791.400L243.300 820.100L291.600 798.400M243.300 820.100L241.400 843.400M243.300 820.100L246 834" fill="none"/>
<path d="M183.900 790.400L213.600 775.100L275.100 794.600L243.300 811.200z" fill="none" stroke="#888" stroke-width="1.400" stroke-dasharray="0.500 1"/>
</g>
<path d="M251.300 754.400Q235 768 234.800 786" fill="none" stroke="#0badef" stroke-width="1"/>
<path d="M234.800 791.600L231.800 784.600L237.800 784.600z" fill="#0badef"/>
<!-- scene B -->
<g fill="#fff" stroke="#9b9b9b" stroke-width="0.600" stroke-linejoin="round" stroke-linecap="round">
<path d="M580.600 706.600Q580 699.400 586.600 699.200Q593.200 699.400 593.400 706L593 710.400Q592.400 714 588.400 714.400L582 714z"/>
<path d="M580.800 707Q582.600 702 587.400 702.600Q590.800 703.200 593.200 705.200" fill="none"/>
<path d="M641.400 726.600Q640.800 719.400 647.400 719.200Q654 719.400 654.200 726L653.800 730.400Q653.200 734 649.200 734.400L643 734z"/>
<path d="M641.600 727Q643.400 722 648.200 722.600Q651.600 723.200 654 725.200" fill="none"/>
<path d="M559.400 716L558.800 719L554.400 721.400Q552.400 724 552.300 729L553.400 740L553 747L555 766H573V722L569 719.400L568.600 716z"/>
<path d="M558.400 709Q557.800 701.400 564.600 701.200Q571.400 701.400 571.600 708L571.200 712.600Q570.600 716.600 566.600 717Q561.600 716.800 559.400 713.400z"/>
<path d="M558.600 709.400Q560.400 704 565.400 704.600Q569 705.200 571.400 707.400M554.400 726Q555.400 732 560 736.400L568.400 729L571.400 721M553.200 744Q561 745.200 572 742.600M553.200 747Q561 748.200 572 745.600M563 749L564 766" fill="none"/>
<path d="M569.400 712.400Q571.400 711.200 572.800 712.200L573.400 718L571.200 719z"/>
<path d="M583 760V772M590 764V776M640 780V792M633 778V790" fill="none"/>
</g>
<path d="M571.500 707L655.800 736.100V783.500L571.500 757.300z" fill="url(#gTv2)" stroke="#2c2c2e" stroke-width="1.300" stroke-linejoin="round"/>
<path d="M572.400 708L655.400 736.800" stroke="#3a3a3c" stroke-width="1.500" fill="none"/>
<g fill="#2c2c2e"><circle cx="572.400" cy="708.400" r="1.300"/><circle cx="655" cy="737" r="1.300"/><circle cx="572.400" cy="756.600" r="1.300"/><circle cx="655" cy="782.400" r="1.300"/><circle cx="581" cy="759.600" r="1.100"/><circle cx="642" cy="778.600" r="1.100"/><circle cx="636" cy="728.800" r="1.100"/><circle cx="590" cy="713" r="1.100"/></g>
<g fill="#fff" stroke="#9b9b9b" stroke-width="0.600" stroke-linejoin="round" stroke-linecap="round">
<path d="M661.400 745.400L661 748.600Q656.400 750.400 655.400 755L653.600 765L655 771L659 770L660 780L659.600 796L661.600 812.400H666.600L668.400 794L671.400 812.400H676.400L678 782L679.500 764Q679.700 751 674.400 748L669 746L668.600 743z"/>
<path d="M658.400 737Q657.600 729 664.600 728.800Q671.800 729 672.200 736L671.800 741Q671.200 745.400 666.400 745.800Q661.400 745.600 659.200 741.600z"/>
<path d="M658.600 737.400Q660.600 732 665.600 732.600Q669.200 733.200 672 735.400M655.600 757Q655.800 765 659 770Q663 768 665 762M660 778Q669 780.600 678 778.600M660 781.400Q669 784 678 782M668.400 794L667.400 785" fill="none"/>
<path d="M657 746Q653.600 744.400 653.200 748.600L652.600 754Q654.200 756.400 656.800 755z"/>
</g>
<!-- table B -->
<g fill="#fff" stroke="#4a4a4c" stroke-width="0.700" stroke-linejoin="round">
<path d="M503 805H509.500V831.700Q506.200 833.100 503 831.700z"/><path d="M504.800 807V831.400" fill="none" stroke-width="0.500"/>
<path d="M655.800 814H662.100V837.600Q659 839 655.800 837.600z"/><path d="M657.600 816V837.400" fill="none" stroke-width="0.500"/>
<path d="M605.200 842H611.700V867.600Q608.400 869 605.200 867.600z"/><path d="M607 844V867.400" fill="none" stroke-width="0.500"/>
<path d="M558.600 762.300L662.100 799.700L663.300 817.200L661 819L613 845L610 842L607.400 846.400L605.200 847.100L603 843L507 808.400L505 806L501.200 807.200L502.400 797L503.700 788.500z"/>
<path d="M503.700 788.500L609.700 825.900L662.100 799.700M609.700 825.900L607.400 846.400M609.700 825.900L612 838" fill="none"/>
<path d="M523.700 789.300L561.100 768.600L645.900 793.500L604.700 817.200z" fill="none" stroke="#888" stroke-width="1.400" stroke-dasharray="0.500 1"/>
</g>
<path d="M609.700 750.400Q593 764 592.200 783" fill="none" stroke="#0badef" stroke-width="1"/>
<path d="M592.200 788.600L589.200 781.600L595.200 781.600z" fill="#0badef"/>
</g>
<!-- section 3 left -->
<defs>
<clipPath id="cpL1"><path d="M102.500 908.300Q102.500 904.300 106.500 904.300H182.400Q186.400 904.300 186.400 908.300V987H102.500z"/></clipPath>
<clipPath id="cpL2"><path d="M102.500 987H186.400V1065.900Q186.400 1069.900 182.400 1069.900H106.500Q102.500 1069.900 102.500 1065.900z"/></clipPath>
<linearGradient id="gTv3" x1="0" y1="0" x2="1" y2="1"><stop offset="0" stop-color="#6b6b6c"/><stop offset="0.6" stop-color="#8f8f90"/><stop offset="1" stop-color="#7d7d7e"/></linearGradient>
<g id="screwcyl"><path d="M-2.600 -3.400V3Q0 4.600 2.600 3V-3.400" fill="#fff" stroke="#8a8a8a" stroke-width="0.600"/><ellipse cx="0" cy="-3.400" rx="2.600" ry="1.300" fill="#fff" stroke="#8a8a8a" stroke-width="0.600"/><path d="M-2.600 -0.600Q0 1 2.600 -0.600M-2.600 1.400Q0 3 2.600 1.400" fill="none" stroke="#8a8a8a" stroke-width="0.500"/></g>
</defs>
<g>
<defs><g id="p3gfx">
<!-- L top panel -->
<g clip-path="url(#cpL1)">
<rect x="102" y="904" width="85" height="84" fill="#fff"/>
<path d="M102 904H187V957L102 927.500z" fill="#ededed"/>
<path d="M102 904H187V938L102 912z" fill="#e1e1e1"/>
<path d="M102 912L187 938M102 921L187 949.600M102 927.500L187 957M140 904L176 916L187 908M160 904L172 908" fill="none" stroke="#3a3a3c" stroke-width="0.700"/>
<g fill="#f2f2f2" stroke="#8a8a8a" stroke-width="0.500"><path d="M159 908v4q1.600 1 3.200 0v-4z"/><ellipse cx="160.600" cy="908" rx="1.600" ry="0.800"/><path d="M173 913v4q1.600 1 3.200 0v-4z"/><ellipse cx="174.600" cy="913" rx="1.600" ry="0.800"/></g>
<!-- vent -->
<g fill="#2a2a2c"><path d="M166.600 933.600l17.600 5.600v9.600l-17.600-5.600z" fill="#f0f0f0" stroke="#555" stroke-width="0.400"/>
<path d="M167.400 934.800l1.400 0.400v3.400l-1.400-0.400zM169.800 935.600l1.400 0.400v3.400l-1.400-0.400zM172.200 936.400l1.400 0.400v3.400l-1.400-0.400zM174.600 937.200l1.400 0.400v3.400l-1.400-0.400zM177 938l1.400 0.400v3.400l-1.400-0.400zM179.400 938.800l1.400 0.400v3.400l-1.400-0.400zM181.800 939.600l1.400 0.400v3.400l-1.400-0.400z"/>
<path d="M167.400 939.200l1.400 0.400v3.400l-1.400-0.400zM169.800 940l1.400 0.400v3.400l-1.400-0.400zM172.200 940.800l1.400 0.400v3.400l-1.400-0.400zM174.600 941.600l1.400 0.400v3.400l-1.400-0.400zM177 942.400l1.400 0.400v3.400l-1.400-0.400zM179.400 943.200l1.400 0.400v3.400l-1.400-0.400zM181.800 944l1.400 0.400v3.400l-1.400-0.400z"/></g>
<path d="M162.400 930.400l2 0.600v9l-2-0.600z" fill="#fff" stroke="#555" stroke-width="0.500"/>
<!-- slot -->
<path d="M143.600 925.400L156.600 929.400V939.600L143.600 935.600z" fill="#3a3a3c"/>
<path d="M144.700 926L155.200 929.200V937.800L144.700 934.400z" fill="#00adef"/>
<!-- blue stand -->
<path d="M127.500 950.300L135.900 953.300L136.500 957.200L114.600 985.300L102 988V971.800z" fill="#1c9fe3" stroke="#1d1d1f" stroke-width="0.800" stroke-linejoin="round"/>
<path d="M102 976L128.400 953.600M106 987L133.400 956.400M110 988L136 958M118 962l6 2.400-3 3.600-6-2.400zM110.400 969.400l6 2.400" fill="none" stroke="#1d1d1f" stroke-width="0.500"/>
<circle cx="125.400" cy="957.400" r="1.700" fill="none" stroke="#1d1d1f" stroke-width="0.500"/>
</g>
<circle cx="149.900" cy="933.100" r="17" fill="none" stroke="#0badef" stroke-width="1"/>
<path d="M133.700 952.700L144 942" stroke="#0badef" stroke-width="1"/><path d="M147.100 938.700L145.900 944.900L141.700 940.900z" fill="#0badef"/>
<!-- L bottom panel -->
<g clip-path="url(#cpL2)">
<rect x="102" y="987" width="85" height="84" fill="#fff"/>
<path d="M102 1034.400L116 1040.400M102 1042L112 1046.400M144.900 1049L187 1062.600M142.600 1056.800L187 1071M136 1062L160 1071" fill="none" stroke="#8a8a8a" stroke-width="0.600"/>
<g transform="translate(150.500,1003.500) scale(1.300)"><use href="#screwcyl"/></g>
<g transform="translate(124.900,1028.200) scale(1.300)"><use href="#screwcyl"/></g>
<path d="M162.300 998.700Q164 997.800 167.300 998.500L178.600 1003.500Q179.600 1005 179.100 1007.400L171.800 1015.900L152.700 1029.900L143.800 1041.100L142.100 1053.500L128 1070.500H102V1053.500L133.700 1023.700L144.900 1017.500z" fill="#92d5f6" stroke="#2ea7e0" stroke-width="0.700" stroke-linejoin="round"/>
<path d="M178.400 1004.400L156.100 1022L149.400 1027.600L142.600 1030.400L106 1070.500M179 1006.400L152 1027.400M137.600 1022L149.400 1027.600M144.900 1018.100L155.500 1022.600M102 1060L134 1028M112 1070.500L143 1036M118 1070.500L143.400 1041" fill="none" stroke="#2ea7e0" stroke-width="0.500"/>
<path d="M154.400 1011.400L160 1007.400L165.600 1010.200L160 1014.700z" fill="#a8ddf7" stroke="#2ea7e0" stroke-width="0.500"/>
<path d="M157 1012.600L160 1009.400V1014.700" fill="none" stroke="#2ea7e0" stroke-width="0.400"/>
<g transform="translate(176.300,1013.600) scale(1.300)"><use href="#screwcyl"/></g>
<g transform="translate(149.900,1037.700) scale(1.300)"><use href="#screwcyl"/></g>
</g>
<path d="M102.500 908.300Q102.500 904.300 106.500 904.300H182.400Q186.400 904.300 186.400 908.300V1065.900Q186.400 1069.900 182.400 1069.900H106.500Q102.500 1069.900 102.500 1065.900z" fill="none" stroke="#1d1d1f" stroke-width="1.400"/>
<path d="M102.500 987H186.400" stroke="#1d1d1f" stroke-width="1.400"/>
</g></defs>
<use href="#p3gfx"/>
<use href="#p3gfx" transform="translate(652.6,-0.400) scale(-1,1)"/>
<text x="157" y="937" class="b" font-size="7.600" fill="#00adef">L</text>
<text x="490.600" y="936.800" class="b" font-size="6.800" fill="#00adef">R</text>
<g fill="#1d1d1f"><circle cx="115.100" cy="914.800" r="5.500"/><circle cx="115.100" cy="999.700" r="5.500"/><circle cx="539.500" cy="914.800" r="5.500"/><circle cx="539.500" cy="999.500" r="5.500"/></g>
<g class="b" font-size="9" fill="#fff" text-anchor="middle"><text x="115.100" y="918">1</text><text x="115.100" y="1002.900">2</text><text x="539.500" y="918">1</text><text x="539.500" y="1002.700">2</text></g>
<!-- L small box -->
<rect x="193.400" y="899.400" width="49.600" height="50.100" rx="3.500" fill="#fff" stroke="#1d1d1f" stroke-width="1.300"/>
<text x="202.200" y="911.900" font-family="'Liberation Sans',sans-serif" font-size="10.700" fill="#1d1d1f" stroke="#1d1d1f" stroke-width="0.250">L</text>
<defs><g id="standSm">
<path d="M222.200 906.400Q222.200 905 224.800 905Q227.400 905 227.400 906.400V913.600L225.800 914.300H222.200z" fill="#3a3a3c" stroke="#1d1d1f" stroke-width="0.500"/>
<path d="M225.400 913l1.400-1 0.800 1.400-1.200 1z" fill="#eee" stroke="#1d1d1f" stroke-width="0.400"/>
<path d="M222.900 915.400H228.900V923.300L234.100 944.600Q233 946.200 231.500 945.700L222.900 927.400Q212 925.400 203.400 927Q201.400 926.300 203.200 925.300L222.900 922.600z" fill="#f1f1f1" stroke="#3a3a3c" stroke-width="0.800" stroke-linejoin="round"/>
<path d="M225.600 915.400V923.600L232.600 945.200M204 926.200Q214 924 223 924.600" fill="none" stroke="#777" stroke-width="0.500"/>
</g></defs>
<use href="#standSm"/>
<circle cx="225" cy="909.800" r="7.100" fill="none" stroke="#0badef" stroke-width="1.200"/>
<text x="193.300" y="980.800" class="b" font-size="17.300" fill="#1d1d1f" textLength="8.200" lengthAdjust="spacingAndGlyphs">L</text>
<path d="M186.400 956.300L252.200 970" stroke="#0badef" stroke-width="0.900" fill="none"/>
</g>
<!-- section 3 center -->
<defs>
<linearGradient id="gBack3" x1="0" y1="0" x2="1" y2="0"><stop offset="0" stop-color="#d9d9d9"/><stop offset="0.5" stop-color="#f1f1f1"/><stop offset="1" stop-color="#d6d6d6"/></linearGradient>
<g id="legIcon"><path d="M-5.200 -6.400L6 -5L6.600 -3.400L2.600 -3.400L-3 7.600L-5 6.800L0 -3.800L-5.600 -4.600z" fill="#c4c4c4" stroke="#2a2a2c" stroke-width="0.700" stroke-linejoin="round"/></g>
</defs>
<g>
<!-- TV back trapezoid -->
<path d="M272.600 910.300H380.200L399.100 962.400Q326 964.600 253.500 962.400z" fill="url(#gBack3)" stroke="#1d1d1f" stroke-width="0.900" stroke-linejoin="round"/>
<path d="M257.400 952.400Q329.800 949.600 394.600 952.400" fill="none" stroke="#1d1d1f" stroke-width="1.200"/>
<path d="M256 956.400Q329.800 953.600 396.400 956.400" fill="none" stroke="#888" stroke-width="0.500"/>
<path d="M282.100 932.700H292.700L288.500 950.500H276.800z" fill="#f4f4f4" stroke="#333" stroke-width="0.600"/>
<path d="M284 936H290.600L287.400 950.500" fill="none" stroke="#666" stroke-width="0.500"/>
<path d="M312.800 958.600L315 945.900H338.300L339.300 958.600" fill="none" stroke="#333" stroke-width="0.600"/>
<path d="M346.300 942.700h2.400l0.800 7h-2.400z" fill="#f4f4f4" stroke="#333" stroke-width="0.500"/>
<!-- blue stand bits -->
<g fill="#00adef" stroke="#1d1d1f" stroke-width="0.500" stroke-linejoin="round">
<path d="M267.300 960.300H277.900V962.800H277.600V975.400L276.400 976.400L275.300 975.400V962.800H267.300z"/>
<path d="M384.900 960.300H374.700V962.800H375V975.400L376.400 976.400L377.800 975.400V962.800H384.900z"/>
</g>
<circle cx="272.600" cy="961.800" r="21.600" fill="none" stroke="#0badef" stroke-width="1.200"/>
<circle cx="380.700" cy="961.800" r="21.600" fill="none" stroke="#0badef" stroke-width="1.200"/>
<path d="M401.400 968.200L466.800 954.700" stroke="#0badef" stroke-width="0.900" fill="none"/>
<!-- check / cross box -->
<rect x="208.500" y="989.700" width="236" height="80.700" rx="4" fill="#fff" stroke="#1d1d1f" stroke-width="1.200"/>
<path d="M328.600 989.700V1070.400" stroke="#1d1d1f" stroke-width="1.100"/>
<rect x="216.300" y="997" width="87.600" height="49.600" fill="#6e6e6f" stroke="#3a3a3c" stroke-width="0.700"/>
<rect x="218" y="998.700" width="84.200" height="45.800" fill="url(#gTv3)"/>
<rect x="336.100" y="997" width="87.600" height="49.600" fill="#6e6e6f" stroke="#3a3a3c" stroke-width="0.700"/>
<rect x="337.800" y="998.700" width="84.200" height="45.800" fill="url(#gTv3)"/>
<use href="#legIcon" x="225.300" y="1051.800"/>
<use href="#legIcon" transform="translate(294.600,1051.800) scale(-1,1)"/>
<use href="#legIcon" transform="translate(345.800,1050.800) scale(-1,1)"/>
<use href="#legIcon" x="413.700" y="1050.800"/>
<g fill="none" stroke="#0badef" stroke-width="1.100">
<circle cx="225.300" cy="1051.800" r="9.100"/><circle cx="294.600" cy="1051.800" r="9.100"/>
<circle cx="345.800" cy="1050.800" r="9.100"/><circle cx="413.700" cy="1050.800" r="9.100"/>
</g>
<path d="M307.600 1055.200L313.600 1064.300L323.300 1051.600" fill="none" stroke="#1d1d1f" stroke-width="2.200" stroke-linejoin="miter"/>
<path d="M426 1052.300L438.900 1065.200M438.900 1052.300L426 1065.200" stroke="#ee3340" stroke-width="2.300" fill="none"/>
<!-- R small box -->
<rect x="407.600" y="899.400" width="50.300" height="49.600" rx="3.500" fill="#fff" stroke="#1d1d1f" stroke-width="1.300"/>
<text x="440.700" y="911.900" font-family="'Liberation Sans',sans-serif" font-size="10.700" fill="#1d1d1f" stroke="#1d1d1f" stroke-width="0.250" textLength="7.200" lengthAdjust="spacingAndGlyphs">R</text>
<use href="#standSm" transform="translate(650.500,0) scale(-1,1)"/>
<circle cx="425.500" cy="909.800" r="7.100" fill="none" stroke="#0badef" stroke-width="1.200"/>
<text x="449.700" y="980.800" class="b" font-size="17.300" fill="#1d1d1f" textLength="10.600" lengthAdjust="spacingAndGlyphs">R</text>
</g>
<!-- section 3: 85" box -->
<g>
<rect x="559.500" y="906.500" width="169" height="159.500" rx="3" fill="#e9e9ea"/>
<rect x="559.400" y="906.600" width="27.600" height="18.800" rx="4" fill="#00adef"/>
<text x="565.300" y="919.800" class="b" font-size="10.800" fill="#fff" textLength="15.200" lengthAdjust="spacingAndGlyphs">85"</text>
<!-- tv back perspective -->
<path d="M611.700 917L717.900 926L699.300 955.600Q697 957.400 692 956.400L596 948.400Q592.400 947.800 593.800 945.600z" fill="#f6f6f6" stroke="#1d1d1f" stroke-width="0.900" stroke-linejoin="round"/>
<path d="M596 943.300L698.100 950.400" fill="none" stroke="#1d1d1f" stroke-width="0.900"/>
<path d="M620 932.700L629.700 933.600L625.200 942.100L615.500 941z" fill="#fff" stroke="#333" stroke-width="0.600"/>
<path d="M639.800 942.100L655.500 943.300V947.700L639.800 946.600z" fill="#fff" stroke="#333" stroke-width="0.600"/>
<path d="M670 938.600l1.600 0.200 0.400 4.400" fill="none" stroke="#333" stroke-width="0.600"/>
<path d="M601 945.400l3 0.300M609 946l3 0.300M676 951l3 0.300M684 951.600l3 0.300" stroke="#555" stroke-width="0.600"/>
<!-- A B labels -->
<g fill="#3c3c3e"><circle cx="599.800" cy="955.100" r="4.100"/><circle cx="615.500" cy="956" r="4.100"/><circle cx="672.300" cy="961.700" r="4.100"/><circle cx="688" cy="963.500" r="4.100"/><circle cx="586.400" cy="1042" r="4.100"/><circle cx="662.700" cy="1042" r="4.100"/></g>
<g class="b" font-size="5.600" fill="#fff" text-anchor="middle">
<text x="599.800" y="957.100">A</text><text x="615.500" y="958">B</text><text x="672.300" y="963.700">B</text><text x="688" y="965.500">A</text><text x="586.400" y="1044">A</text><text x="662.700" y="1044">B</text>
</g>
<!-- stands -->
<g fill="none" stroke="#1d1d1f" stroke-width="2.200" stroke-linecap="round">
<path d="M597.100 977.600L590.800 972.400M602.100 970.900L597.100 977.600L594.400 991.500"/>
<path d="M675.700 976.900L674.600 983.700M682.900 985.900L674.600 983.700L667.800 997.800"/>
</g>
<g fill="none" stroke="#2a7fb4" stroke-width="0.900" stroke-linecap="round">
<path d="M602.100 970.900L597.100 977.600L594.400 991.500"/><path d="M675.700 976.900L674.600 983.700L667.800 997.800"/>
</g>
<g fill="#0badef" stroke="#0badef" stroke-width="0.900">
<path d="M600.500 970.200L604.200 964.400" fill="none"/><path d="M605.700 961.900L605.400 966.900L602.200 964.900z" stroke="none"/>
<path d="M675.700 975.800L678.600 970.400" fill="none"/><path d="M679.700 967.900L679.700 972.900L676.400 971.200z" stroke="none"/>
</g>
<!-- bottom TVs -->
<g>
<path d="M583.700 1049.900l-1.800 5.600M634.800 1049.900l1.800 5.600M666.700 1049.900l-1.800 5.600M703.700 1049.900l1.800 5.600" stroke="#333" stroke-width="1.200" fill="none"/>
<rect x="578.100" y="1014.400" width="62.800" height="35.500" rx="0.800" fill="#7a7a7b" stroke="#2c2c2e" stroke-width="0.800"/>
<rect x="579.700" y="1016" width="59.600" height="31.400" fill="url(#gTv3)"/>
<rect x="654.400" y="1014.400" width="62.800" height="35.500" rx="0.800" fill="#7a7a7b" stroke="#2c2c2e" stroke-width="0.800"/>
<rect x="656" y="1016" width="59.600" height="31.400" fill="url(#gTv3)"/>
<path d="M574.200 1058.800V1055.500H644.300V1058.800" fill="#fff" stroke="#2c2c2e" stroke-width="0.800"/>
<path d="M650.500 1058.800V1055.500H720.600V1058.800" fill="#fff" stroke="#2c2c2e" stroke-width="0.800"/>
<g fill="#3c3c3e"><circle cx="586.400" cy="1042" r="4.100"/><circle cx="662.700" cy="1042" r="4.100"/></g>
<g class="b" font-size="5.600" fill="#fff" text-anchor="middle"><text x="586.400" y="1044">A</text><text x="662.700" y="1044">B</text></g>
</g>
</g>
<!-- page turn icon -->
<defs>
<linearGradient id="gCurlA" gradientUnits="userSpaceOnUse" x1="739" y1="1066" x2="763" y2="1078"><stop offset="0" stop-color="#8c8c8c"/><stop offset="0.500" stop-color="#e9e9e9"/><stop offset="0.800" stop-color="#ffffff"/><stop offset="1" stop-color="#d0d0d0"/></linearGradient>
<linearGradient id="gCurlB" gradientUnits="userSpaceOnUse" x1="752" y1="1068" x2="746" y2="1094"><stop offset="0" stop-color="#333" stop-opacity="0"/><stop offset="0.450" stop-color="#333" stop-opacity="0.100"/><stop offset="1" stop-color="#2a2a2a" stop-opacity="0.950"/></linearGradient>
</defs>
<g>
<path d="M779.800 1047.300L738.400 1068.300Q747.400 1078 745.300 1094.500z" fill="url(#gCurlA)"/>
<path d="M779.800 1047.300L738.400 1068.300Q747.400 1078 745.300 1094.500z" fill="url(#gCurlB)"/>
<path d="M779.800 1047.300H787.200V1101.800H745.300V1093.300z" fill="#231f20"/>
<path d="M759.800 1074.400Q758.600 1064 755.600 1059.600L759.400 1057.600Q761.800 1064 760.400 1073.600z" fill="#231f20"/>
<path d="M754 1053.200L763 1059.400L752.800 1063.800z" fill="#231f20"/>
</g>

</svg>
</body></html>
